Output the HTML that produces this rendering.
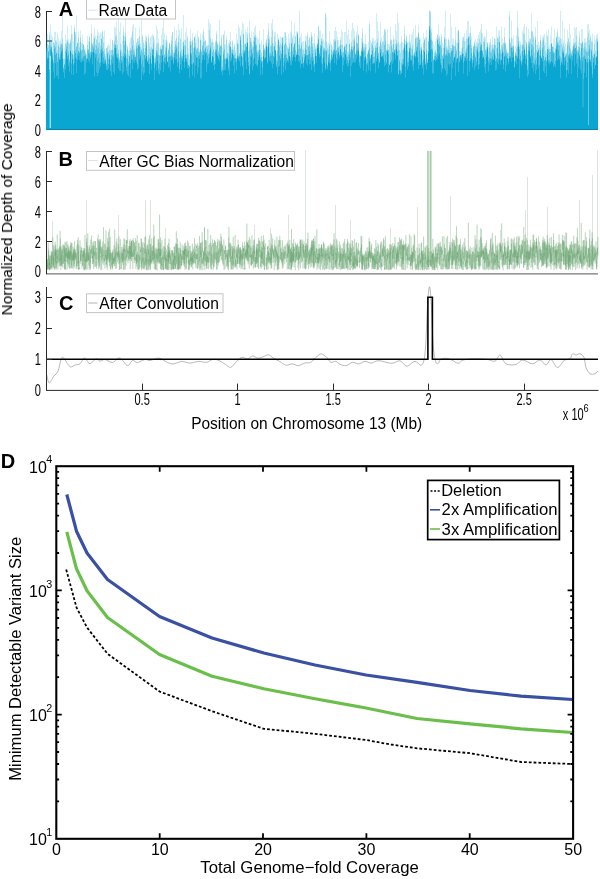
<!DOCTYPE html><html><head><meta charset="utf-8"><style>html,body{margin:0;padding:0;background:#fff}svg{display:block}text{font-family:"Liberation Sans",sans-serif;fill:#000}</style></head><body>
<svg width="600" height="879" viewBox="0 0 600 879">
<rect width="600" height="879" fill="#fff"/>
<g style="opacity:0.999">
<line x1="46.5" x2="46.5" y1="11.0" y2="129.6" stroke="#2a2a2a" stroke-width="1"/>
<line x1="46.5" x2="52.0" y1="11.5" y2="11.5" stroke="#2a2a2a" stroke-width="1"/>
<text transform="translate(41.0 17.7) scale(0.71 1)" text-anchor="end" font-size="15.6">8</text>
<line x1="46.5" x2="52.0" y1="41.0" y2="41.0" stroke="#2a2a2a" stroke-width="1"/>
<text transform="translate(41.0 47.2) scale(0.71 1)" text-anchor="end" font-size="15.6">6</text>
<line x1="46.5" x2="52.0" y1="70.5" y2="70.5" stroke="#2a2a2a" stroke-width="1"/>
<text transform="translate(41.0 76.7) scale(0.71 1)" text-anchor="end" font-size="15.6">4</text>
<line x1="46.5" x2="52.0" y1="100.0" y2="100.0" stroke="#2a2a2a" stroke-width="1"/>
<text transform="translate(41.0 106.2) scale(0.71 1)" text-anchor="end" font-size="15.6">2</text>
<line x1="46.5" x2="52.0" y1="129.5" y2="129.5" stroke="#2a2a2a" stroke-width="1"/>
<text transform="translate(41.0 135.7) scale(0.71 1)" text-anchor="end" font-size="15.6">0</text>
<path d="M46.0 129.9V45.1H46.20V48.0H46.40V48.8H46.60V34.9H46.80V51.3H47.00V43.9H47.20V59.3H47.40V33.9H47.60V48.1H47.80V57.6H48.00V51.8H48.20V50.9H48.40V58.0H48.60V45.5H48.80V44.3H49.00V39.9H49.20V35.2H49.40V32.3H49.60V71.9H49.80V69.8H50.00V24.4H50.20V39.9H50.40V45.8H50.60V62.0H50.80V49.3H51.00V50.8H51.20V46.6H51.40V41.6H51.60V47.3H51.80V34.6H52.00V51.6H52.20V59.4H52.40V55.5H52.60V53.0H52.80V37.0H53.00V42.1H53.20V63.2H53.40V42.5H53.60V61.1H53.80V71.8H54.00V32.0H54.20V43.4H54.40V45.7H54.60V78.2H54.80V48.7H55.00V54.9H55.20V40.5H55.40V47.3H55.60V63.3H55.80V31.7H56.00V39.5H56.20V53.1H56.40V42.1H56.60V76.3H56.80V53.0H57.00V57.6H57.20V61.9H57.40V50.2H57.60V75.5H57.80V32.5H58.00V43.4H58.20V45.9H58.40V53.8H58.60V37.7H58.80V78.9H59.00V60.3H59.20V59.3H59.40V47.4H59.60V57.0H59.80V40.9H60.00V54.2H60.20V44.1H60.40V59.6H60.60V39.2H60.80V46.5H61.00V50.6H61.20V52.2H61.40V44.2H61.60V30.8H61.80V42.8H62.00V48.4H62.20V10.8H62.40V38.6H62.60V44.9H62.80V58.8H63.00V59.2H63.20V54.3H63.40V72.3H63.60V68.9H63.80V67.3H64.00V47.1H64.20V63.9H64.40V65.1H64.60V57.9H64.80V78.0H65.00V69.5H65.20V44.3H65.40V50.9H65.60V59.8H65.80V34.3H66.00V49.1H66.20V42.7H66.40V39.4H66.60V52.3H66.80V45.9H67.00V25.4H67.20V55.7H67.40V40.1H67.60V41.7H67.80V59.1H68.00V51.6H68.20V66.0H68.40V54.5H68.60V39.3H68.80V43.2H69.00V59.4H69.20V44.5H69.40V71.8H69.60V42.4H69.80V62.3H70.00V40.4H70.20V51.0H70.40V39.0H70.60V43.2H70.80V50.8H71.00V74.5H71.20V53.1H71.40V63.4H71.60V24.9H71.80V34.3H72.00V53.4H72.20V50.2H72.40V59.3H72.60V55.0H72.80V33.7H73.00V40.7H73.20V64.5H73.40V58.4H73.60V54.5H73.80V75.1H74.00V51.3H74.20V62.9H74.40V25.4H74.60V31.7H74.80V27.9H75.00V34.5H75.20V49.7H75.40V53.1H75.60V31.9H75.80V57.2H76.00V15.4H76.20V58.8H76.40V46.9H76.60V45.9H76.80V73.0H77.00V41.8H77.20V60.0H77.40V53.9H77.60V42.9H77.80V43.0H78.00V56.1H78.20V37.9H78.40V31.4H78.60V51.3H78.80V50.8H79.00V52.2H79.20V52.7H79.40V47.6H79.60V59.9H79.80V42.3H80.00V49.8H80.20V30.8H80.40V41.8H80.60V62.0H80.80V37.3H81.00V50.9H81.20V49.2H81.40V58.5H81.60V62.8H81.80V42.9H82.00V49.7H82.20V61.1H82.40V34.6H82.60V58.6H82.80V43.3H83.00V44.4H83.20V44.9H83.40V56.4H83.60V44.1H83.80V60.9H84.00V50.1H84.20V49.8H84.40V55.5H84.60V46.9H84.80V74.8H85.00V52.0H85.20V73.0H85.40V55.8H85.60V53.9H85.80V48.3H86.00V54.2H86.20V58.4H86.40V53.8H86.60V58.8H86.80V62.6H87.00V58.2H87.20V58.7H87.40V45.1H87.60V49.6H87.80V35.7H88.00V50.0H88.20V41.3H88.40V48.9H88.60V60.7H88.80V52.7H89.00V37.2H89.20V35.3H89.40V41.4H89.60V54.3H89.80V62.9H90.00V47.5H90.20V59.0H90.40V51.8H90.60V51.9H90.80V56.6H91.00V25.1H91.20V51.6H91.40V43.3H91.60V53.8H91.80V33.6H92.00V45.1H92.20V43.3H92.40V52.2H92.60V44.6H92.80V64.6H93.00V46.4H93.20V48.6H93.40V42.5H93.60V52.1H93.80V35.7H94.00V38.5H94.20V76.8H94.40V37.7H94.60V53.1H94.80V27.8H95.00V57.7H95.20V35.4H95.40V50.0H95.60V54.3H95.80V44.7H96.00V39.7H96.20V45.5H96.40V72.5H96.60V39.0H96.80V53.8H97.00V29.5H97.20V35.8H97.40V48.5H97.60V60.7H97.80V76.3H98.00V47.4H98.20V72.9H98.40V32.6H98.60V58.0H98.80V42.7H99.00V63.0H99.20V53.7H99.40V42.5H99.60V68.4H99.80V34.6H100.00V49.9H100.20V45.6H100.40V32.6H100.60V62.1H100.80V66.2H101.00V53.1H101.20V49.1H101.40V33.6H101.60V38.7H101.80V39.0H102.00V31.8H102.20V62.6H102.40V51.1H102.60V47.3H102.80V30.3H103.00V63.7H103.20V57.5H103.40V42.6H103.60V36.3H103.80V51.4H104.00V48.9H104.20V30.7H104.40V63.7H104.60V53.7H104.80V60.2H105.00V56.3H105.20V60.6H105.40V53.6H105.60V63.0H105.80V58.8H106.00V48.2H106.20V69.8H106.40V65.7H106.60V63.9H106.80V47.6H107.00V70.0H107.20V47.2H107.40V45.6H107.60V53.7H107.80V52.4H108.00V44.3H108.20V51.7H108.40V59.1H108.60V68.7H108.80V64.1H109.00V54.5H109.20V45.6H109.40V50.2H109.60V56.4H109.80V59.6H110.00V65.3H110.20V71.6H110.40V64.4H110.60V38.8H110.80V50.4H111.00V59.6H111.20V55.0H111.40V50.3H111.60V76.3H111.80V49.3H112.00V49.9H112.20V63.4H112.40V55.7H112.60V40.6H112.80V39.9H113.00V57.3H113.20V50.3H113.40V54.6H113.60V72.0H113.80V43.5H114.00V44.3H114.20V48.1H114.40V74.2H114.60V26.2H114.80V40.7H115.00V45.0H115.20V48.5H115.40V36.2H115.60V44.9H115.80V27.7H116.00V54.0H116.20V21.1H116.40V47.5H116.60V34.9H116.80V56.9H117.00V59.1H117.20V53.5H117.40V57.3H117.60V39.9H117.80V44.7H118.00V10.8H118.20V49.7H118.40V54.1H118.60V67.9H118.80V58.8H119.00V70.8H119.20V62.3H119.40V31.9H119.60V57.6H119.80V60.1H120.00V49.8H120.20V71.0H120.40V22.6H120.60V52.3H120.80V43.9H121.00V50.0H121.20V60.1H121.40V63.3H121.60V45.1H121.80V55.8H122.00V74.6H122.20V52.7H122.40V40.4H122.60V61.4H122.80V56.8H123.00V35.3H123.20V26.3H123.40V71.8H123.60V32.5H123.80V56.1H124.00V40.6H124.20V53.7H124.40V45.2H124.60V35.9H124.80V57.6H125.00V55.7H125.20V37.3H125.40V32.9H125.60V18.1H125.80V41.3H126.00V44.3H126.20V57.9H126.40V66.6H126.60V71.0H126.80V54.4H127.00V58.5H127.20V74.3H127.40V47.0H127.60V45.2H127.80V49.5H128.00V54.4H128.20V76.2H128.40V51.1H128.60V65.4H128.80V61.8H129.00V56.4H129.20V42.6H129.40V50.4H129.60V55.9H129.80V63.9H130.00V77.7H130.20V37.9H130.40V62.9H130.60V48.0H130.80V50.6H131.00V38.0H131.20V59.5H131.40V35.2H131.60V54.9H131.80V49.7H132.00V25.9H132.20V31.5H132.40V45.8H132.60V59.4H132.80V69.5H133.00V40.6H133.20V50.6H133.40V23.9H133.60V54.7H133.80V61.6H134.00V48.9H134.20V56.7H134.40V44.7H134.60V63.2H134.80V52.5H135.00V27.6H135.20V57.2H135.40V54.7H135.60V56.5H135.80V60.2H136.00V41.8H136.20V46.1H136.40V62.3H136.60V48.7H136.80V42.9H137.00V38.9H137.20V69.6H137.40V38.5H137.60V64.2H137.80V48.1H138.00V44.9H138.20V37.5H138.40V41.1H138.60V45.4H138.80V68.1H139.00V44.2H139.20V26.9H139.40V59.4H139.60V46.5H139.80V36.6H140.00V51.8H140.20V54.7H140.40V56.8H140.60V46.8H140.80V43.1H141.00V49.8H141.20V11.9H141.40V80.0H141.60V48.7H141.80V64.6H142.00V34.5H142.20V36.4H142.40V72.5H142.60V60.2H142.80V52.3H143.00V75.2H143.20V42.9H143.40V40.2H143.60V48.3H143.80V66.7H144.00V52.1H144.20V72.8H144.40V55.1H144.60V44.2H144.80V55.1H145.00V57.5H145.20V59.3H145.40V35.2H145.60V40.6H145.80V48.1H146.00V36.2H146.20V37.7H146.40V41.7H146.60V45.0H146.80V56.2H147.00V60.5H147.20V56.6H147.40V49.1H147.60V62.3H147.80V61.2H148.00V35.1H148.20V38.3H148.40V55.0H148.60V59.1H148.80V64.0H149.00V58.0H149.20V46.7H149.40V73.9H149.60V63.7H149.80V42.6H150.00V58.9H150.20V52.4H150.40V56.2H150.60V48.9H150.80V37.0H151.00V35.8H151.20V47.2H151.40V62.8H151.60V69.7H151.80V64.0H152.00V48.2H152.20V49.5H152.40V49.7H152.60V55.1H152.80V33.9H153.00V56.6H153.20V35.6H153.40V49.3H153.60V43.7H153.80V36.4H154.00V80.2H154.20V58.5H154.40V62.4H154.60V67.5H154.80V39.1H155.00V55.9H155.20V57.9H155.40V47.6H155.60V62.3H155.80V64.4H156.00V70.4H156.20V52.9H156.40V49.9H156.60V25.2H156.80V45.1H157.00V55.1H157.20V43.0H157.40V51.2H157.60V29.3H157.80V60.9H158.00V38.3H158.20V43.0H158.40V68.4H158.60V54.8H158.80V73.2H159.00V55.9H159.20V63.4H159.40V74.4H159.60V49.3H159.80V55.0H160.00V56.1H160.20V70.6H160.40V47.3H160.60V45.3H160.80V49.4H161.00V34.6H161.20V49.9H161.40V62.7H161.60V48.7H161.80V49.0H162.00V56.1H162.20V45.0H162.40V28.0H162.60V54.9H162.80V45.5H163.00V45.1H163.20V12.6H163.40V72.1H163.60V39.4H163.80V61.0H164.00V57.9H164.20V54.0H164.40V54.9H164.60V33.1H164.80V62.2H165.00V46.6H165.20V64.3H165.40V51.0H165.60V57.2H165.80V39.6H166.00V34.9H166.20V43.0H166.40V56.6H166.60V48.2H166.80V39.5H167.00V41.1H167.20V61.9H167.40V62.3H167.60V53.7H167.80V61.0H168.00V50.5H168.20V49.4H168.40V56.9H168.60V48.1H168.80V67.7H169.00V44.0H169.20V43.1H169.40V42.5H169.60V56.3H169.80V66.6H170.00V46.2H170.20V56.6H170.40V52.4H170.60V55.4H170.80V71.5H171.00V39.7H171.20V55.1H171.40V59.9H171.60V44.5H171.80V35.5H172.00V59.4H172.20V31.9H172.40V56.6H172.60V32.1H172.80V49.9H173.00V53.2H173.20V56.9H173.40V51.6H173.60V64.4H173.80V62.4H174.00V26.7H174.20V47.3H174.40V53.6H174.60V57.8H174.80V52.6H175.00V50.1H175.20V39.4H175.40V44.5H175.60V59.7H175.80V41.1H176.00V37.8H176.20V45.8H176.40V30.0H176.60V58.9H176.80V48.4H177.00V54.2H177.20V66.7H177.40V46.5H177.60V62.4H177.80V42.6H178.00V42.1H178.20V23.6H178.40V51.2H178.60V36.1H178.80V61.8H179.00V57.5H179.20V73.0H179.40V69.0H179.60V57.2H179.80V29.7H180.00V38.2H180.20V39.2H180.40V54.3H180.60V64.3H180.80V51.2H181.00V49.2H181.20V56.2H181.40V69.9H181.60V58.5H181.80V27.9H182.00V52.4H182.20V58.2H182.40V56.0H182.60V42.7H182.80V61.3H183.00V41.5H183.20V41.8H183.40V15.1H183.60V46.3H183.80V49.8H184.00V39.6H184.20V68.1H184.40V55.1H184.60V61.9H184.80V45.1H185.00V46.6H185.20V58.7H185.40V32.1H185.60V54.5H185.80V40.3H186.00V27.4H186.20V61.3H186.40V58.0H186.60V58.4H186.80V54.6H187.00V54.4H187.20V68.3H187.40V35.7H187.60V62.5H187.80V38.5H188.00V54.5H188.20V48.1H188.40V65.0H188.60V68.2H188.80V64.9H189.00V66.2H189.20V66.4H189.40V59.3H189.60V78.2H189.80V41.3H190.00V39.3H190.20V44.9H190.40V41.7H190.60V29.0H190.80V53.1H191.00V64.2H191.20V55.3H191.40V53.1H191.60V41.0H191.80V44.4H192.00V64.5H192.20V42.1H192.40V75.5H192.60V32.8H192.80V39.8H193.00V47.4H193.20V62.5H193.40V63.3H193.60V47.9H193.80V51.7H194.00V77.6H194.20V37.8H194.40V36.7H194.60V47.7H194.80V37.1H195.00V43.2H195.20V54.8H195.40V65.4H195.60V47.1H195.80V34.7H196.00V57.3H196.20V38.6H196.40V49.9H196.60V48.3H196.80V57.5H197.00V47.9H197.20V30.7H197.40V73.4H197.60V57.8H197.80V49.1H198.00V36.1H198.20V38.3H198.40V51.7H198.60V67.5H198.80V56.0H199.00V49.3H199.20V51.6H199.40V59.0H199.60V52.6H199.80V54.8H200.00V40.2H200.20V39.4H200.40V78.8H200.60V49.2H200.80V33.3H201.00V51.9H201.20V40.5H201.40V62.9H201.60V77.7H201.80V50.5H202.00V45.0H202.20V34.0H202.40V54.7H202.60V59.8H202.80V46.6H203.00V31.6H203.20V41.9H203.40V55.5H203.60V28.7H203.80V50.4H204.00V60.0H204.20V52.1H204.40V50.0H204.60V37.2H204.80V40.9H205.00V40.4H205.20V40.2H205.40V53.9H205.60V48.6H205.80V47.5H206.00V45.4H206.20V52.5H206.40V71.9H206.60V52.0H206.80V46.0H207.00V44.6H207.20V46.0H207.40V48.9H207.60V64.4H207.80V55.6H208.00V58.8H208.20V63.3H208.40V44.9H208.60V19.2H208.80V53.8H209.00V30.2H209.20V22.4H209.40V53.5H209.60V50.9H209.80V57.0H210.00V45.8H210.20V47.7H210.40V38.1H210.60V24.0H210.80V49.8H211.00V59.7H211.20V62.5H211.40V62.2H211.60V39.6H211.80V42.5H212.00V42.1H212.20V52.0H212.40V56.5H212.60V39.1H212.80V56.1H213.00V57.1H213.20V49.5H213.40V65.1H213.60V48.9H213.80V42.0H214.00V64.3H214.20V61.2H214.40V70.1H214.60V45.9H214.80V52.4H215.00V51.5H215.20V42.8H215.40V49.5H215.60V64.1H215.80V40.5H216.00V49.4H216.20V31.0H216.40V34.3H216.60V41.4H216.80V53.6H217.00V44.7H217.20V41.8H217.40V55.5H217.60V43.9H217.80V55.6H218.00V44.2H218.20V59.4H218.40V50.6H218.60V51.9H218.80V57.4H219.00V61.3H219.20V54.1H219.40V42.1H219.60V46.4H219.80V19.5H220.00V56.1H220.20V54.9H220.40V46.1H220.60V44.7H220.80V46.5H221.00V69.8H221.20V37.9H221.40V45.1H221.60V34.7H221.80V71.9H222.00V67.0H222.20V59.7H222.40V47.7H222.60V70.0H222.80V75.3H223.00V34.6H223.20V54.2H223.40V70.5H223.60V51.3H223.80V34.6H224.00V44.3H224.20V58.9H224.40V49.0H224.60V70.1H224.80V30.5H225.00V64.1H225.20V58.7H225.40V57.4H225.60V44.6H225.80V70.1H226.00V59.3H226.20V39.6H226.40V35.6H226.60V57.6H226.80V58.9H227.00V59.6H227.20V52.5H227.40V57.7H227.60V44.7H227.80V53.2H228.00V60.5H228.20V67.4H228.40V70.4H228.60V53.8H228.80V42.8H229.00V75.2H229.20V45.4H229.40V43.2H229.60V39.4H229.80V55.5H230.00V47.1H230.20V41.6H230.40V32.0H230.60V61.5H230.80V47.1H231.00V52.9H231.20V60.6H231.40V47.2H231.60V49.4H231.80V57.4H232.00V49.6H232.20V40.1H232.40V53.6H232.60V53.5H232.80V42.3H233.00V65.4H233.20V55.8H233.40V47.1H233.60V49.9H233.80V54.6H234.00V73.6H234.20V45.5H234.40V58.0H234.60V55.1H234.80V44.0H235.00V57.9H235.20V58.8H235.40V52.3H235.60V50.0H235.80V62.5H236.00V57.6H236.20V70.4H236.40V33.4H236.60V61.2H236.80V58.6H237.00V58.5H237.20V55.4H237.40V44.0H237.60V42.7H237.80V39.6H238.00V44.2H238.20V59.5H238.40V57.1H238.60V56.0H238.80V25.2H239.00V53.0H239.20V61.5H239.40V56.4H239.60V27.9H239.80V54.7H240.00V66.6H240.20V35.2H240.40V37.3H240.60V35.1H240.80V39.9H241.00V56.8H241.20V29.4H241.40V53.0H241.60V44.9H241.80V55.8H242.00V57.0H242.20V22.2H242.40V49.8H242.60V65.1H242.80V66.7H243.00V33.2H243.20V52.5H243.40V34.4H243.60V23.9H243.80V75.3H244.00V41.4H244.20V50.5H244.40V53.7H244.60V44.7H244.80V50.9H245.00V50.2H245.20V29.2H245.40V44.1H245.60V61.5H245.80V43.7H246.00V46.3H246.20V42.6H246.40V47.0H246.60V32.1H246.80V69.0H247.00V27.1H247.20V38.1H247.40V34.2H247.60V42.8H247.80V43.1H248.00V51.0H248.20V50.6H248.40V66.0H248.60V56.9H248.80V62.1H249.00V20.3H249.20V74.4H249.40V49.2H249.60V33.2H249.80V73.7H250.00V56.0H250.20V41.8H250.40V37.9H250.60V38.1H250.80V64.7H251.00V44.5H251.20V49.6H251.40V41.5H251.60V31.5H251.80V56.9H252.00V54.6H252.20V47.2H252.40V45.3H252.60V70.3H252.80V52.4H253.00V59.3H253.20V32.3H253.40V46.8H253.60V40.7H253.80V66.0H254.00V57.8H254.20V36.3H254.40V36.9H254.60V41.8H254.80V28.3H255.00V45.1H255.20V63.9H255.40V34.9H255.60V37.9H255.80V25.7H256.00V45.8H256.20V65.0H256.40V51.5H256.60V43.9H256.80V36.8H257.00V53.5H257.20V37.8H257.40V66.7H257.60V64.3H257.80V50.2H258.00V51.7H258.20V60.2H258.40V39.5H258.60V50.3H258.80V56.8H259.00V45.0H259.20V43.5H259.40V55.0H259.60V30.8H259.80V49.7H260.00V57.2H260.20V49.8H260.40V43.8H260.60V75.0H260.80V60.0H261.00V56.9H261.20V62.7H261.40V52.8H261.60V61.3H261.80V40.6H262.00V74.3H262.20V67.6H262.40V56.9H262.60V61.2H262.80V60.8H263.00V50.6H263.20V56.3H263.40V29.2H263.60V45.1H263.80V44.7H264.00V47.7H264.20V50.0H264.40V48.6H264.60V57.8H264.80V59.8H265.00V51.1H265.20V57.9H265.40V46.9H265.60V41.9H265.80V57.2H266.00V40.0H266.20V46.2H266.40V46.6H266.60V43.6H266.80V38.2H267.00V48.4H267.20V46.3H267.40V63.5H267.60V34.6H267.80V61.8H268.00V46.8H268.20V38.4H268.40V30.6H268.60V43.2H268.80V23.1H269.00V53.3H269.20V60.6H269.40V56.6H269.60V39.5H269.80V36.1H270.00V55.6H270.20V53.1H270.40V46.5H270.60V44.4H270.80V61.3H271.00V23.3H271.20V45.4H271.40V37.0H271.60V55.5H271.80V63.2H272.00V51.4H272.20V19.0H272.40V30.0H272.60V68.2H272.80V43.3H273.00V56.3H273.20V64.1H273.40V46.6H273.60V43.3H273.80V55.7H274.00V32.3H274.20V57.3H274.40V36.2H274.60V45.4H274.80V47.1H275.00V31.7H275.20V50.0H275.40V50.7H275.60V50.0H275.80V41.4H276.00V54.6H276.20V67.1H276.40V53.1H276.60V60.2H276.80V64.8H277.00V44.7H277.20V74.3H277.40V61.2H277.60V33.7H277.80V50.9H278.00V66.9H278.20V40.3H278.40V39.8H278.60V38.9H278.80V37.5H279.00V46.9H279.20V55.4H279.40V45.0H279.60V41.8H279.80V65.8H280.00V36.6H280.20V60.4H280.40V43.7H280.60V58.1H280.80V51.1H281.00V53.7H281.20V74.4H281.40V53.6H281.60V45.3H281.80V37.5H282.00V37.2H282.20V37.8H282.40V37.6H282.60V42.5H282.80V46.0H283.00V36.4H283.20V57.9H283.40V49.9H283.60V66.2H283.80V72.2H284.00V61.8H284.20V32.3H284.40V54.9H284.60V44.2H284.80V45.0H285.00V32.6H285.20V69.8H285.40V42.8H285.60V54.1H285.80V32.2H286.00V62.8H286.20V54.8H286.40V44.9H286.60V36.7H286.80V57.9H287.00V58.3H287.20V46.5H287.40V47.5H287.60V59.9H287.80V61.3H288.00V49.1H288.20V33.8H288.40V62.4H288.60V48.4H288.80V52.1H289.00V56.2H289.20V38.3H289.40V46.9H289.60V55.9H289.80V43.2H290.00V60.5H290.20V52.2H290.40V57.2H290.60V31.2H290.80V64.8H291.00V21.1H291.20V43.8H291.40V42.7H291.60V32.7H291.80V65.5H292.00V50.7H292.20V38.2H292.40V57.4H292.60V36.4H292.80V60.9H293.00V55.2H293.20V47.5H293.40V35.0H293.60V46.2H293.80V54.5H294.00V22.9H294.20V44.2H294.40V42.4H294.60V43.3H294.80V56.9H295.00V61.4H295.20V49.7H295.40V35.5H295.60V36.5H295.80V57.3H296.00V31.5H296.20V52.1H296.40V55.3H296.60V54.8H296.80V55.0H297.00V34.6H297.20V32.1H297.40V33.6H297.60V54.0H297.80V31.0H298.00V60.8H298.20V40.7H298.40V55.1H298.60V44.2H298.80V49.3H299.00V62.2H299.20V10.8H299.40V55.8H299.60V38.0H299.80V44.9H300.00V60.3H300.20V48.0H300.40V48.7H300.60V68.0H300.80V36.3H301.00V32.9H301.20V45.4H301.40V64.3H301.60V63.6H301.80V41.9H302.00V42.1H302.20V49.7H302.40V57.1H302.60V54.4H302.80V64.1H303.00V62.8H303.20V67.2H303.40V62.6H303.60V41.0H303.80V49.5H304.00V57.3H304.20V54.1H304.40V59.9H304.60V53.5H304.80V47.6H305.00V35.4H305.20V55.4H305.40V41.8H305.60V41.1H305.80V49.6H306.00V55.3H306.20V45.1H306.40V63.5H306.60V36.6H306.80V49.8H307.00V54.9H307.20V35.2H307.40V55.3H307.60V65.4H307.80V32.5H308.00V39.9H308.20V46.5H308.40V59.6H308.60V46.4H308.80V54.2H309.00V51.2H309.20V36.9H309.40V45.4H309.60V38.0H309.80V64.2H310.00V46.7H310.20V40.2H310.40V54.3H310.60V59.4H310.80V64.6H311.00V57.1H311.20V69.9H311.40V34.5H311.60V31.9H311.80V37.5H312.00V61.1H312.20V43.4H312.40V46.4H312.60V53.4H312.80V36.3H313.00V66.7H313.20V49.8H313.40V57.1H313.60V42.9H313.80V59.7H314.00V33.3H314.20V64.4H314.40V64.2H314.60V72.1H314.80V43.2H315.00V49.7H315.20V48.0H315.40V55.9H315.60V46.0H315.80V52.8H316.00V45.5H316.20V56.2H316.40V48.7H316.60V56.1H316.80V63.2H317.00V48.2H317.20V36.0H317.40V43.8H317.60V44.7H317.80V43.3H318.00V47.5H318.20V38.9H318.40V25.2H318.60V39.6H318.80V26.9H319.00V30.5H319.20V53.9H319.40V50.8H319.60V57.5H319.80V53.4H320.00V30.4H320.20V56.0H320.40V44.5H320.60V48.3H320.80V45.4H321.00V38.2H321.20V40.7H321.40V45.7H321.60V38.5H321.80V63.2H322.00V58.6H322.20V72.8H322.40V64.3H322.60V34.0H322.80V40.9H323.00V48.7H323.20V47.1H323.40V57.1H323.60V39.1H323.80V51.1H324.00V48.8H324.20V62.2H324.40V51.8H324.60V47.9H324.80V42.1H325.00V13.5H325.20V50.0H325.40V70.0H325.60V68.1H325.80V12.9H326.00V64.3H326.20V51.0H326.40V17.4H326.60V50.5H326.80V41.5H327.00V66.4H327.20V48.5H327.40V69.3H327.60V65.0H327.80V44.4H328.00V42.8H328.20V54.4H328.40V61.8H328.60V57.2H328.80V49.6H329.00V43.9H329.20V46.0H329.40V63.0H329.60V30.9H329.80V53.6H330.00V63.2H330.20V70.9H330.40V41.7H330.60V60.7H330.80V58.5H331.00V45.3H331.20V55.0H331.40V43.9H331.60V60.2H331.80V50.0H332.00V59.3H332.20V54.4H332.40V51.6H332.60V57.1H332.80V46.6H333.00V49.3H333.20V49.8H333.40V54.1H333.60V51.9H333.80V38.9H334.00V40.1H334.20V42.2H334.40V50.0H334.60V31.1H334.80V63.1H335.00V54.5H335.20V39.3H335.40V27.1H335.60V51.6H335.80V41.1H336.00V58.0H336.20V50.1H336.40V30.9H336.60V49.7H336.80V64.8H337.00V53.4H337.20V40.6H337.40V36.6H337.60V59.9H337.80V47.7H338.00V52.4H338.20V47.8H338.40V51.6H338.60V39.9H338.80V46.7H339.00V54.7H339.20V57.9H339.40V45.7H339.60V55.5H339.80V45.5H340.00V40.1H340.20V48.8H340.40V37.2H340.60V49.4H340.80V44.6H341.00V29.5H341.20V54.4H341.40V44.7H341.60V55.9H341.80V51.7H342.00V58.3H342.20V31.9H342.40V72.0H342.60V52.8H342.80V45.0H343.00V65.3H343.20V47.7H343.40V57.0H343.60V52.3H343.80V51.5H344.00V46.9H344.20V47.2H344.40V32.1H344.60V59.8H344.80V45.2H345.00V45.4H345.20V53.9H345.40V31.7H345.60V54.6H345.80V50.0H346.00V57.0H346.20V63.4H346.40V44.3H346.60V20.6H346.80V43.9H347.00V66.2H347.20V34.5H347.40V56.8H347.60V51.9H347.80V59.9H348.00V66.3H348.20V62.8H348.40V29.5H348.60V54.7H348.80V51.3H349.00V60.3H349.20V38.9H349.40V43.8H349.60V54.2H349.80V44.0H350.00V49.8H350.20V48.9H350.40V52.0H350.60V57.5H350.80V76.8H351.00V65.7H351.20V30.6H351.40V49.2H351.60V42.1H351.80V46.5H352.00V50.5H352.20V49.7H352.40V46.3H352.60V63.2H352.80V23.1H353.00V28.2H353.20V39.7H353.40V61.8H353.60V58.3H353.80V47.4H354.00V30.8H354.20V37.8H354.40V62.5H354.60V45.3H354.80V40.4H355.00V51.8H355.20V53.5H355.40V53.8H355.60V62.5H355.80V54.7H356.00V58.5H356.20V35.5H356.40V50.6H356.60V32.4H356.80V42.5H357.00V55.3H357.20V44.1H357.40V25.5H357.60V43.2H357.80V50.2H358.00V51.0H358.20V35.9H358.40V48.3H358.60V35.0H358.80V34.1H359.00V66.3H359.20V53.8H359.40V62.5H359.60V56.7H359.80V55.1H360.00V68.3H360.20V55.0H360.40V55.9H360.60V53.1H360.80V56.3H361.00V56.5H361.20V47.9H361.40V37.9H361.60V50.9H361.80V51.1H362.00V51.2H362.20V27.7H362.40V41.7H362.60V33.3H362.80V44.2H363.00V46.4H363.20V70.7H363.40V49.2H363.60V42.8H363.80V52.1H364.00V57.9H364.20V47.4H364.40V50.6H364.60V60.6H364.80V43.9H365.00V47.5H365.20V34.0H365.40V44.0H365.60V57.0H365.80V56.2H366.00V43.9H366.20V64.1H366.40V57.5H366.60V59.3H366.80V72.4H367.00V53.6H367.20V62.7H367.40V54.3H367.60V50.7H367.80V65.2H368.00V51.8H368.20V49.8H368.40V70.2H368.60V41.8H368.80V50.1H369.00V21.9H369.20V25.0H369.40V60.8H369.60V53.6H369.80V47.4H370.00V71.3H370.20V58.7H370.40V40.0H370.60V58.0H370.80V55.5H371.00V54.8H371.20V43.7H371.40V42.3H371.60V54.1H371.80V55.1H372.00V50.4H372.20V45.5H372.40V37.5H372.60V63.7H372.80V41.0H373.00V47.8H373.20V56.9H373.40V62.9H373.60V63.6H373.80V37.9H374.00V63.4H374.20V56.5H374.40V53.0H374.60V41.2H374.80V62.1H375.00V72.7H375.20V45.8H375.40V47.8H375.60V40.2H375.80V50.9H376.00V47.8H376.20V43.1H376.40V61.4H376.60V13.2H376.80V58.7H377.00V47.6H377.20V21.6H377.40V56.2H377.60V38.9H377.80V42.4H378.00V31.0H378.20V68.1H378.40V52.5H378.60V53.4H378.80V58.7H379.00V46.4H379.20V45.9H379.40V62.9H379.60V60.5H379.80V62.2H380.00V22.0H380.20V40.6H380.40V49.3H380.60V52.7H380.80V42.9H381.00V56.7H381.20V44.9H381.40V56.4H381.60V49.4H381.80V37.2H382.00V56.5H382.20V42.5H382.40V41.1H382.60V56.0H382.80V52.7H383.00V52.0H383.20V58.7H383.40V41.5H383.60V35.1H383.80V54.8H384.00V66.6H384.20V61.8H384.40V29.7H384.60V44.9H384.80V29.0H385.00V65.1H385.20V54.6H385.40V40.7H385.60V28.7H385.80V31.9H386.00V63.8H386.20V48.4H386.40V49.7H386.60V62.3H386.80V50.8H387.00V51.7H387.20V50.9H387.40V50.1H387.60V43.9H387.80V29.0H388.00V44.0H388.20V49.7H388.40V72.3H388.60V50.3H388.80V54.1H389.00V64.3H389.20V43.7H389.40V65.1H389.60V46.7H389.80V65.1H390.00V53.4H390.20V39.4H390.40V61.9H390.60V62.7H390.80V26.8H391.00V45.7H391.20V40.4H391.40V60.6H391.60V72.6H391.80V39.5H392.00V44.2H392.20V51.9H392.40V51.7H392.60V47.7H392.80V63.7H393.00V35.2H393.20V53.2H393.40V43.9H393.60V61.2H393.80V39.7H394.00V38.9H394.20V51.0H394.40V53.0H394.60V49.0H394.80V50.0H395.00V59.0H395.20V54.7H395.40V49.3H395.60V44.3H395.80V24.0H396.00V31.0H396.20V39.9H396.40V49.6H396.60V46.5H396.80V43.5H397.00V55.4H397.20V55.5H397.40V51.1H397.60V43.6H397.80V13.0H398.00V74.5H398.20V41.8H398.40V74.0H398.60V50.2H398.80V22.8H399.00V49.9H399.20V59.6H399.40V70.3H399.60V61.6H399.80V44.5H400.00V43.4H400.20V70.4H400.40V70.4H400.60V53.0H400.80V75.0H401.00V42.0H401.20V62.5H401.40V35.7H401.60V72.9H401.80V73.2H402.00V41.9H402.20V65.8H402.40V59.3H402.60V64.2H402.80V50.5H403.00V42.9H403.20V48.4H403.40V64.3H403.60V59.1H403.80V49.8H404.00V34.0H404.20V44.6H404.40V39.6H404.60V47.6H404.80V25.8H405.00V44.9H405.20V66.6H405.40V50.4H405.60V77.6H405.80V40.5H406.00V36.2H406.20V35.5H406.40V41.2H406.60V43.3H406.80V44.6H407.00V50.7H407.20V69.7H407.40V42.1H407.60V43.3H407.80V62.2H408.00V57.4H408.20V66.4H408.40V42.3H408.60V61.9H408.80V52.3H409.00V47.6H409.20V41.6H409.40V48.3H409.60V34.3H409.80V51.3H410.00V54.3H410.20V60.1H410.40V47.3H410.60V40.4H410.80V43.4H411.00V34.6H411.20V55.6H411.40V60.9H411.60V59.1H411.80V48.5H412.00V32.6H412.20V45.1H412.40V49.0H412.60V66.2H412.80V55.7H413.00V54.6H413.20V28.3H413.40V63.6H413.60V55.6H413.80V70.5H414.00V52.4H414.20V48.3H414.40V56.5H414.60V52.0H414.80V54.4H415.00V38.8H415.20V57.8H415.40V56.1H415.60V38.1H415.80V25.2H416.00V50.3H416.20V36.4H416.40V46.4H416.60V52.0H416.80V38.0H417.00V37.0H417.20V42.8H417.40V56.9H417.60V37.4H417.80V47.4H418.00V33.3H418.20V68.7H418.40V33.3H418.60V24.7H418.80V61.9H419.00V39.3H419.20V36.8H419.40V65.1H419.60V50.2H419.80V39.4H420.00V53.5H420.20V38.8H420.40V64.9H420.60V63.5H420.80V47.4H421.00V48.8H421.20V49.7H421.40V43.9H421.60V51.1H421.80V47.0H422.00V55.0H422.20V53.7H422.40V68.2H422.60V61.7H422.80V64.9H423.00V74.7H423.20V59.3H423.40V33.1H423.60V42.5H423.80V50.0H424.00V52.0H424.20V51.5H424.40V39.6H424.60V38.3H424.80V40.3H425.00V58.6H425.20V63.9H425.40V62.0H425.60V65.1H425.80V37.0H426.00V29.7H426.20V49.4H426.40V37.4H426.60V53.9H426.80V69.5H427.00V63.2H427.20V50.4H427.40V63.0H427.60V58.5H427.80V60.4H428.00V41.3H428.20V52.4H428.40V40.9H428.60V38.6H428.80V51.0H429.00V26.6H429.20V10.8H429.40V30.6H429.60V26.2H429.80V10.8H430.00V10.8H430.20V12.4H430.40V29.4H430.60V38.5H430.80V49.9H431.00V48.9H431.20V40.0H431.40V28.3H431.60V32.6H431.80V62.1H432.00V40.2H432.20V40.9H432.40V72.9H432.60V48.6H432.80V50.8H433.00V58.7H433.20V74.1H433.40V44.3H433.60V59.4H433.80V61.3H434.00V55.7H434.20V45.4H434.40V52.4H434.60V60.1H434.80V59.6H435.00V49.9H435.20V55.7H435.40V61.4H435.60V41.2H435.80V52.0H436.00V57.0H436.20V53.2H436.40V59.9H436.60V54.1H436.80V37.6H437.00V35.0H437.20V40.1H437.40V34.3H437.60V58.9H437.80V39.0H438.00V56.0H438.20V44.5H438.40V25.1H438.60V37.6H438.80V43.7H439.00V41.5H439.20V53.8H439.40V37.6H439.60V35.3H439.80V46.0H440.00V40.4H440.20V63.3H440.40V44.4H440.60V58.8H440.80V45.5H441.00V72.6H441.20V36.7H441.40V34.1H441.60V47.7H441.80V65.0H442.00V55.8H442.20V55.5H442.40V42.5H442.60V68.0H442.80V69.5H443.00V48.0H443.20V59.1H443.40V44.4H443.60V58.3H443.80V54.0H444.00V38.7H444.20V47.7H444.40V37.0H444.60V26.8H444.80V68.5H445.00V39.4H445.20V70.6H445.40V10.8H445.60V54.3H445.80V56.1H446.00V38.8H446.20V49.2H446.40V54.6H446.60V76.2H446.80V46.8H447.00V45.6H447.20V55.4H447.40V51.0H447.60V48.6H447.80V74.0H448.00V40.0H448.20V38.1H448.40V50.1H448.60V63.7H448.80V53.0H449.00V66.3H449.20V45.5H449.40V40.2H449.60V54.6H449.80V52.2H450.00V48.1H450.20V63.9H450.40V56.6H450.60V13.9H450.80V52.8H451.00V80.2H451.20V50.5H451.40V26.9H451.60V47.9H451.80V51.4H452.00V68.0H452.20V44.8H452.40V50.2H452.60V39.1H452.80V44.9H453.00V38.5H453.20V59.0H453.40V62.3H453.60V46.7H453.80V45.1H454.00V46.3H454.20V56.5H454.40V45.7H454.60V57.0H454.80V57.4H455.00V46.3H455.20V39.8H455.40V54.0H455.60V75.9H455.80V27.0H456.00V49.3H456.20V59.4H456.40V42.9H456.60V62.7H456.80V51.3H457.00V57.9H457.20V58.5H457.40V58.0H457.60V31.4H457.80V42.5H458.00V72.0H458.20V43.1H458.40V31.1H458.60V29.2H458.80V30.8H459.00V51.1H459.20V40.0H459.40V62.5H459.60V56.2H459.80V61.6H460.00V55.1H460.20V54.8H460.40V51.3H460.60V55.8H460.80V58.0H461.00V57.3H461.20V60.1H461.40V51.4H461.60V47.9H461.80V55.1H462.00V37.1H462.20V47.2H462.40V54.1H462.60V40.8H462.80V52.9H463.00V53.9H463.20V36.5H463.40V62.5H463.60V73.8H463.80V37.4H464.00V56.1H464.20V57.6H464.40V61.0H464.60V32.9H464.80V41.0H465.00V40.8H465.20V58.1H465.40V52.7H465.60V56.5H465.80V50.5H466.00V48.6H466.20V30.6H466.40V53.3H466.60V60.7H466.80V38.7H467.00V46.3H467.20V58.5H467.40V21.3H467.60V38.7H467.80V75.7H468.00V36.8H468.20V36.4H468.40V38.1H468.60V20.9H468.80V45.1H469.00V71.5H469.20V33.4H469.40V44.6H469.60V60.9H469.80V36.3H470.00V26.0H470.20V58.0H470.40V39.4H470.60V61.3H470.80V32.9H471.00V58.9H471.20V36.5H471.40V47.9H471.60V45.3H471.80V53.3H472.00V56.1H472.20V52.2H472.40V63.0H472.60V67.3H472.80V59.8H473.00V51.5H473.20V47.5H473.40V45.8H473.60V45.8H473.80V60.2H474.00V40.4H474.20V44.2H474.40V54.6H474.60V42.6H474.80V69.7H475.00V57.9H475.20V38.7H475.40V46.3H475.60V66.9H475.80V56.5H476.00V65.3H476.20V41.4H476.40V45.7H476.60V61.5H476.80V50.1H477.00V38.6H477.20V43.1H477.40V46.8H477.60V48.8H477.80V51.5H478.00V64.2H478.20V68.9H478.40V43.2H478.60V52.5H478.80V34.8H479.00V64.5H479.20V51.4H479.40V32.1H479.60V39.0H479.80V57.9H480.00V44.5H480.20V42.1H480.40V50.8H480.60V47.2H480.80V29.3H481.00V32.7H481.20V44.8H481.40V50.1H481.60V44.5H481.80V24.1H482.00V58.6H482.20V50.8H482.40V33.5H482.60V50.2H482.80V52.7H483.00V37.3H483.20V42.1H483.40V57.1H483.60V54.9H483.80V57.3H484.00V39.3H484.20V67.2H484.40V41.9H484.60V58.9H484.80V36.1H485.00V37.0H485.20V49.3H485.40V64.1H485.60V73.2H485.80V50.2H486.00V56.9H486.20V29.8H486.40V50.4H486.60V54.5H486.80V46.9H487.00V48.4H487.20V42.0H487.40V43.0H487.60V44.4H487.80V47.3H488.00V57.1H488.20V61.6H488.40V51.4H488.60V71.5H488.80V47.0H489.00V42.1H489.20V44.9H489.40V59.1H489.60V47.7H489.80V64.7H490.00V58.5H490.20V52.3H490.40V42.6H490.60V38.8H490.80V62.4H491.00V65.1H491.20V53.0H491.40V58.6H491.60V44.5H491.80V50.0H492.00V48.5H492.20V45.0H492.40V36.7H492.60V56.4H492.80V60.0H493.00V49.7H493.20V47.4H493.40V59.0H493.60V60.2H493.80V44.3H494.00V50.7H494.20V53.7H494.40V38.5H494.60V38.5H494.80V44.7H495.00V39.3H495.20V44.9H495.40V55.5H495.60V70.5H495.80V60.9H496.00V58.6H496.20V26.6H496.40V48.1H496.60V58.5H496.80V69.6H497.00V41.9H497.20V48.4H497.40V37.1H497.60V37.8H497.80V62.2H498.00V53.8H498.20V64.3H498.40V30.5H498.60V39.0H498.80V59.4H499.00V30.3H499.20V41.9H499.40V42.1H499.60V58.4H499.80V36.0H500.00V60.3H500.20V52.5H500.40V49.5H500.60V64.8H500.80V48.8H501.00V59.4H501.20V45.0H501.40V26.3H501.60V54.1H501.80V60.3H502.00V47.6H502.20V52.7H502.40V37.4H502.60V44.4H502.80V50.6H503.00V42.4H503.20V43.5H503.40V52.6H503.60V64.4H503.80V68.9H504.00V37.1H504.20V43.6H504.40V57.2H504.60V27.5H504.80V56.1H505.00V42.3H505.20V45.1H505.40V71.5H505.60V43.1H505.80V54.3H506.00V65.3H506.20V52.5H506.40V50.3H506.60V47.2H506.80V55.7H507.00V51.2H507.20V58.5H507.40V53.0H507.60V57.9H507.80V53.2H508.00V52.5H508.20V61.5H508.40V52.4H508.60V58.6H508.80V64.4H509.00V57.7H509.20V16.4H509.40V38.6H509.60V10.9H509.80V56.0H510.00V47.4H510.20V56.5H510.40V43.1H510.60V58.5H510.80V42.2H511.00V48.0H511.20V37.5H511.40V20.4H511.60V46.2H511.80V62.1H512.00V52.2H512.20V45.8H512.40V38.4H512.60V47.7H512.80V58.1H513.00V46.3H513.20V35.7H513.40V50.3H513.60V57.0H513.80V45.9H514.00V57.5H514.20V67.6H514.40V60.9H514.60V67.3H514.80V59.7H515.00V51.9H515.20V55.4H515.40V45.5H515.60V61.9H515.80V53.3H516.00V56.3H516.20V48.6H516.40V64.3H516.60V54.8H516.80V35.1H517.00V56.5H517.20V10.8H517.40V46.9H517.60V26.9H517.80V59.0H518.00V41.3H518.20V46.4H518.40V44.0H518.60V28.7H518.80V37.1H519.00V78.2H519.20V58.7H519.40V46.5H519.60V49.1H519.80V40.8H520.00V53.8H520.20V56.1H520.40V60.9H520.60V41.2H520.80V44.7H521.00V45.3H521.20V63.5H521.40V50.9H521.60V65.8H521.80V60.3H522.00V44.7H522.20V51.0H522.40V44.7H522.60V30.4H522.80V61.7H523.00V55.2H523.20V33.5H523.40V44.7H523.60V27.1H523.80V59.1H524.00V47.0H524.20V23.8H524.40V49.5H524.60V34.1H524.80V49.7H525.00V56.3H525.20V54.6H525.40V64.1H525.60V53.6H525.80V39.6H526.00V42.5H526.20V26.5H526.40V59.0H526.60V43.6H526.80V47.1H527.00V76.8H527.20V50.4H527.40V69.7H527.60V65.6H527.80V54.6H528.00V29.1H528.20V50.4H528.40V74.8H528.60V44.5H528.80V41.6H529.00V38.1H529.20V43.1H529.40V50.9H529.60V46.4H529.80V41.3H530.00V58.3H530.20V38.4H530.40V56.5H530.60V38.9H530.80V55.4H531.00V44.1H531.20V13.5H531.40V49.6H531.60V63.1H531.80V31.2H532.00V45.1H532.20V30.6H532.40V31.9H532.60V55.7H532.80V67.9H533.00V71.5H533.20V37.7H533.40V34.5H533.60V62.8H533.80V47.3H534.00V58.0H534.20V63.7H534.40V42.1H534.60V65.2H534.80V52.6H535.00V74.1H535.20V39.4H535.40V27.2H535.60V60.2H535.80V36.7H536.00V50.0H536.20V64.5H536.40V44.4H536.60V69.8H536.80V57.2H537.00V45.1H537.20V20.9H537.40V52.2H537.60V52.8H537.80V51.4H538.00V50.1H538.20V41.9H538.40V47.8H538.60V67.4H538.80V50.3H539.00V47.6H539.20V55.5H539.40V44.9H539.60V80.0H539.80V65.1H540.00V55.7H540.20V41.4H540.40V50.0H540.60V40.1H540.80V34.7H541.00V43.6H541.20V58.2H541.40V58.0H541.60V58.0H541.80V56.0H542.00V41.3H542.20V47.5H542.40V61.2H542.60V49.5H542.80V36.5H543.00V40.2H543.20V38.1H543.40V71.5H543.60V35.1H543.80V55.9H544.00V59.6H544.20V45.3H544.40V72.9H544.60V60.4H544.80V33.7H545.00V51.0H545.20V42.5H545.40V57.0H545.60V57.4H545.80V66.4H546.00V60.4H546.20V31.3H546.40V61.5H546.60V53.0H546.80V76.4H547.00V49.1H547.20V34.7H547.40V36.8H547.60V54.9H547.80V49.2H548.00V47.3H548.20V60.1H548.40V29.3H548.60V63.0H548.80V50.0H549.00V64.8H549.20V60.7H549.40V44.9H549.60V51.9H549.80V48.7H550.00V62.1H550.20V35.4H550.40V49.1H550.60V63.3H550.80V51.7H551.00V43.4H551.20V26.7H551.40V43.7H551.60V61.1H551.80V43.6H552.00V46.8H552.20V51.5H552.40V62.5H552.60V46.8H552.80V46.4H553.00V52.1H553.20V53.4H553.40V38.2H553.60V46.8H553.80V67.0H554.00V53.2H554.20V29.2H554.40V65.6H554.60V64.3H554.80V51.8H555.00V47.9H555.20V41.7H555.40V60.9H555.60V67.3H555.80V50.2H556.00V36.2H556.20V49.0H556.40V37.6H556.60V37.3H556.80V45.8H557.00V44.3H557.20V60.3H557.40V28.5H557.60V42.3H557.80V32.3H558.00V58.2H558.20V50.1H558.40V44.4H558.60V36.9H558.80V41.4H559.00V39.8H559.20V60.1H559.40V36.6H559.60V45.5H559.80V55.8H560.00V78.3H560.20V65.4H560.40V39.1H560.60V10.8H560.80V56.7H561.00V38.4H561.20V62.4H561.40V58.6H561.60V61.8H561.80V43.4H562.00V21.1H562.20V45.8H562.40V64.5H562.60V48.5H562.80V51.6H563.00V43.3H563.20V53.4H563.40V52.5H563.60V40.4H563.80V50.0H564.00V46.4H564.20V65.0H564.40V57.0H564.60V28.4H564.80V57.8H565.00V55.5H565.20V60.5H565.40V53.7H565.60V56.4H565.80V43.5H566.00V48.2H566.20V52.9H566.40V77.4H566.60V54.3H566.80V70.1H567.00V29.4H567.20V41.9H567.40V45.3H567.60V62.3H567.80V69.9H568.00V73.6H568.20V39.3H568.40V54.6H568.60V56.5H568.80V37.6H569.00V23.8H569.20V57.9H569.40V42.6H569.60V45.5H569.80V53.9H570.00V34.6H570.20V51.7H570.40V59.2H570.60V55.7H570.80V48.2H571.00V55.6H571.20V73.7H571.40V49.9H571.60V52.8H571.80V54.0H572.00V50.0H572.20V60.6H572.40V56.3H572.60V46.3H572.80V51.0H573.00V38.2H573.20V43.2H573.40V45.8H573.60V53.6H573.80V47.2H574.00V43.0H574.20V27.0H574.40V49.0H574.60V66.2H574.80V44.4H575.00V48.0H575.20V48.1H575.40V28.5H575.60V54.5H575.80V42.1H576.00V63.6H576.20V35.6H576.40V44.9H576.60V51.1H576.80V26.7H577.00V77.8H577.20V52.2H577.40V50.1H577.60V59.0H577.80V49.0H578.00V41.9H578.20V52.6H578.40V46.7H578.60V67.6H578.80V50.0H579.00V47.1H579.20V56.4H579.40V55.2H579.60V37.4H579.80V31.3H580.00V69.5H580.20V51.3H580.40V60.4H580.60V58.2H580.80V42.7H581.00V43.4H581.20V47.9H581.40V73.3H581.60V29.1H581.80V43.7H582.00V61.2H582.20V41.1H582.40V42.8H582.60V29.1H582.80V57.1H583.00V55.6H583.20V56.7H583.40V48.2H583.60V44.8H583.80V79.1H584.00V47.3H584.20V72.7H584.40V42.8H584.60V38.0H584.80V56.2H585.00V59.1H585.20V38.4H585.40V58.7H585.60V43.0H585.80V50.3H586.00V77.3H586.20V51.9H586.40V48.4H586.60V41.6H586.80V61.7H587.00V62.7H587.20V24.4H587.40V37.5H587.60V51.7H587.80V59.1H588.00V62.2H588.20V58.3H588.40V51.1H588.60V33.1H588.80V23.8H589.00V30.0H589.20V40.1H589.40V44.9H589.60V60.0H589.80V48.8H590.00V61.5H590.20V37.5H590.40V35.0H590.60V59.0H590.80V61.7H591.00V40.4H591.20V51.1H591.40V41.5H591.60V66.2H591.80V49.6H592.00V55.8H592.20V41.8H592.40V77.7H592.60V33.4H592.80V74.1H593.00V50.2H593.20V61.9H593.40V57.4H593.60V53.7H593.80V58.0H594.00V69.0H594.20V54.1H594.40V44.3H594.60V35.5H594.80V53.8H595.00V51.0H595.20V64.7H595.40V40.0H595.60V65.3H595.80V57.3H596.00V38.8H596.20V56.0H596.40V34.7H596.60V57.7H596.80V56.7H597.00V41.8H597.20V38.4H597.40V41.1H597.60V50.4H597.80V33.6H598.00V129.9Z" fill="#08a6d0"/>
<line x1="50.3" x2="50.3" y1="128.0" y2="55.8" stroke="#fff" stroke-width="1.3" opacity="0.65"/>
<line x1="588.5" x2="588.5" y1="125.1" y2="55.8" stroke="#fff" stroke-width="0.6" opacity="0.65"/>
<line x1="583.0" x2="583.0" y1="107.4" y2="55.8" stroke="#fff" stroke-width="0.4" opacity="0.65"/>
<line x1="46.5" x2="598.0" y1="129.5" y2="129.5" stroke="#0a86a8" stroke-width="1.2"/>
<rect x="86.5" y="-0.5" width="89.0" height="19.5" fill="#fff" stroke="#c4c4c4" stroke-width="1"/>
<line x1="88.3" x2="97.5" y1="10.2" y2="10.2" stroke="#c2e3ee" stroke-width="0.9"/>
<text x="98.6" y="16.0" font-size="16" textLength="68.6" lengthAdjust="spacingAndGlyphs">Raw Data</text>
<text x="58.7" y="15.7" font-size="20" font-weight="bold">A</text>
<polyline points="46.50,269.1 46.61,265.7 46.71,264.6 46.82,269.2 46.92,268.5 47.03,262.1 47.14,269.8 47.24,268.7 47.35,264.9 47.45,269.5 47.56,259.4 47.67,265.7 47.77,264.6 47.88,259.2 47.99,268.9 48.09,269.3 48.20,242.5 48.30,269.3 48.41,261.2 48.52,251.0 48.62,260.3 48.73,248.4 48.83,263.4 48.94,269.0 49.05,263.2 49.15,269.5 49.26,255.3 49.36,265.0 49.47,258.0 49.58,270.2 49.68,260.8 49.79,269.8 49.89,269.8 50.00,255.7 50.11,259.8 50.21,269.3 50.32,262.7 50.42,264.4 50.53,265.8 50.64,269.2 50.74,259.3 50.85,255.9 50.96,262.5 51.06,251.5 51.17,267.0 51.27,268.8 51.38,254.7 51.49,256.1 51.59,267.9 51.70,253.1 51.80,264.8 51.91,250.8 52.02,269.5 52.12,269.2 52.23,257.8 52.33,252.1 52.44,256.0 52.55,255.5 52.65,266.6 52.76,250.8 52.86,237.1 52.97,260.4 53.08,255.5 53.18,256.8 53.29,268.5 53.40,257.6 53.50,267.1 53.61,245.1 53.71,264.7 53.82,254.8 53.93,249.7 54.03,265.7 54.14,262.7 54.24,252.0 54.35,268.2 54.46,269.0 54.56,265.9 54.67,269.8 54.77,261.2 54.88,246.7 54.99,255.7 55.09,241.7 55.20,251.6 55.30,267.3 55.41,250.8 55.52,261.3 55.62,244.6 55.73,269.1 55.83,249.9 55.94,263.2 56.05,250.8 56.15,248.6 56.26,252.3 56.37,269.5 56.47,257.7 56.58,250.2 56.68,267.3 56.79,261.9 56.90,264.6 57.00,254.2 57.11,250.3 57.21,234.4 57.32,258.7 57.43,255.7 57.53,262.5 57.64,249.9 57.74,262.7 57.85,262.0 57.96,269.7 58.06,265.5 58.17,248.2 58.27,261.7 58.38,254.0 58.49,250.5 58.59,249.7 58.70,251.3 58.81,251.0 58.91,251.6 59.02,262.8 59.12,254.1 59.23,258.6 59.34,266.3 59.44,248.4 59.55,254.4 59.65,246.1 59.76,261.4 59.87,257.9 59.97,265.8 60.08,230.8 60.18,258.1 60.29,259.9 60.40,238.6 60.50,262.9 60.61,265.7 60.71,246.6 60.82,269.8 60.93,268.5 61.03,256.8 61.14,255.0 61.24,265.9 61.35,256.0 61.46,250.8 61.56,264.6 61.67,254.6 61.78,248.7 61.88,265.9 61.99,261.4 62.09,245.7 62.20,263.7 62.31,258.8 62.41,249.9 62.52,253.0 62.62,267.5 62.73,256.3 62.84,254.2 62.94,254.5 63.05,244.1 63.15,250.8 63.26,257.1 63.37,263.4 63.47,258.0 63.58,255.1 63.68,263.8 63.79,245.1 63.90,253.7 64.00,246.8 64.11,260.8 64.22,269.1 64.32,245.6 64.43,260.4 64.53,259.8 64.64,261.5 64.75,249.3 64.85,269.1 64.96,241.8 65.06,270.1 65.17,260.5 65.28,248.4 65.38,269.2 65.49,253.2 65.59,257.3 65.70,258.0 65.81,253.1 65.91,242.6 66.02,254.6 66.12,248.1 66.23,261.9 66.34,254.7 66.44,256.7 66.55,247.7 66.65,256.2 66.76,254.1 66.87,249.5 66.97,241.0 67.08,269.6 67.19,254.7 67.29,262.0 67.40,252.9 67.50,257.9 67.61,251.3 67.72,264.3 67.82,247.4 67.93,244.0 68.03,253.9 68.14,258.1 68.25,245.9 68.35,266.9 68.46,248.5 68.56,252.5 68.67,257.0 68.78,259.6 68.88,251.5 68.99,264.2 69.09,250.7 69.20,259.0 69.31,249.5 69.41,262.3 69.52,268.6 69.63,252.9 69.73,259.7 69.84,246.6 69.94,268.5 70.05,264.3 70.16,251.0 70.26,255.2 70.37,260.9 70.47,250.5 70.58,245.0 70.69,256.4 70.79,242.0 70.90,253.4 71.00,268.4 71.11,253.5 71.22,251.2 71.32,265.2 71.43,244.4 71.53,243.0 71.64,255.6 71.75,268.0 71.85,255.5 71.96,259.0 72.06,243.2 72.17,268.1 72.28,253.6 72.38,252.9 72.49,260.5 72.60,257.3 72.70,257.5 72.81,255.0 72.91,260.7 73.02,261.4 73.13,246.8 73.23,269.3 73.34,262.4 73.44,252.8 73.55,259.1 73.66,250.4 73.76,266.2 73.87,250.4 73.97,260.2 74.08,248.5 74.19,251.1 74.29,263.9 74.40,247.3 74.50,241.3 74.61,267.5 74.72,252.2 74.82,249.0 74.93,259.4 75.04,251.8 75.14,260.5 75.25,259.2 75.35,253.1 75.46,249.6 75.57,257.9 75.67,252.8 75.78,255.9 75.88,258.2 75.99,255.4 76.10,258.1 76.20,269.1 76.31,252.7 76.41,254.1 76.52,266.0 76.63,255.9 76.73,246.9 76.84,245.6 76.94,268.6 77.05,262.5 77.16,263.1 77.26,255.5 77.37,255.5 77.47,253.7 77.58,240.2 77.69,260.2 77.79,266.0 77.90,244.1 78.01,254.2 78.11,264.1 78.22,237.2 78.32,250.1 78.43,269.7 78.54,251.0 78.64,269.7 78.75,255.5 78.85,245.6 78.96,262.8 79.07,262.4 79.17,261.2 79.28,267.4 79.38,269.2 79.49,269.0 79.60,268.0 79.70,269.0 79.81,257.3 79.91,252.2 80.02,240.3 80.13,243.3 80.23,250.6 80.34,250.3 80.44,260.8 80.55,254.0 80.66,263.7 80.76,250.9 80.87,256.5 80.98,261.3 81.08,246.6 81.19,260.5 81.29,250.6 81.40,252.4 81.51,247.9 81.61,248.9 81.72,257.8 81.82,257.7 81.93,268.6 82.04,266.8 82.14,262.2 82.25,250.6 82.35,251.1 82.46,251.4 82.57,265.8 82.67,263.0 82.78,254.1 82.88,266.0 82.99,254.7 83.10,255.8 83.20,248.0 83.31,257.3 83.42,250.5 83.52,257.2 83.63,269.6 83.73,254.3 83.84,251.1 83.95,261.0 84.05,251.3 84.16,257.1 84.26,270.3 84.37,248.2 84.48,269.6 84.58,264.1 84.69,261.2 84.79,249.2 84.90,256.3 85.01,234.8 85.11,261.8 85.22,261.2 85.32,255.7 85.43,269.3 85.54,266.4 85.64,262.5 85.75,258.6 85.85,268.7 85.96,252.8 86.07,264.0 86.17,270.3 86.28,253.1 86.39,262.6 86.49,242.2 86.60,252.6 86.70,261.9 86.81,238.5 86.92,250.4 87.02,262.1 87.13,258.2 87.23,252.2 87.34,245.8 87.45,248.0 87.55,260.8 87.66,246.3 87.76,233.4 87.87,269.5 87.98,251.9 88.08,259.9 88.19,250.9 88.29,248.9 88.40,260.1 88.51,252.8 88.61,260.7 88.72,256.7 88.83,265.4 88.93,262.5 89.04,254.9 89.14,257.2 89.25,245.2 89.36,250.0 89.46,247.2 89.57,267.9 89.67,254.3 89.78,250.7 89.89,252.7 89.99,270.0 90.10,256.6 90.20,262.3 90.31,249.9 90.42,269.2 90.52,250.1 90.63,249.0 90.73,239.7 90.84,252.0 90.95,251.3 91.05,249.2 91.16,258.3 91.26,252.5 91.37,254.4 91.48,244.6 91.58,235.7 91.69,247.9 91.80,253.1 91.90,249.1 92.01,248.1 92.11,257.8 92.22,245.6 92.33,246.1 92.43,258.5 92.54,255.9 92.64,264.1 92.75,252.6 92.86,242.3 92.96,264.2 93.07,252.2 93.17,252.0 93.28,250.4 93.39,262.0 93.49,245.7 93.60,268.9 93.70,269.0 93.81,241.0 93.92,248.0 94.02,254.1 94.13,245.7 94.24,249.4 94.34,252.6 94.45,266.7 94.55,256.7 94.66,252.8 94.77,256.6 94.87,251.6 94.98,255.6 95.08,241.3 95.19,251.1 95.30,258.5 95.40,241.1 95.51,254.8 95.61,266.7 95.72,267.1 95.83,257.5 95.93,260.4 96.04,265.8 96.14,248.5 96.25,249.4 96.36,248.2 96.46,247.8 96.57,268.6 96.67,252.2 96.78,256.8 96.89,258.3 96.99,258.9 97.10,258.9 97.21,257.5 97.31,243.1 97.42,241.1 97.52,238.5 97.63,240.8 97.74,250.6 97.84,262.5 97.95,265.4 98.05,254.2 98.16,234.5 98.27,239.7 98.37,255.0 98.48,262.8 98.58,255.4 98.69,239.9 98.80,269.3 98.90,247.6 99.01,259.9 99.11,256.8 99.22,242.0 99.33,267.7 99.43,257.1 99.54,239.3 99.65,259.6 99.75,265.8 99.86,258.6 99.96,241.5 100.07,245.3 100.18,250.4 100.28,246.6 100.39,253.4 100.49,239.3 100.60,257.0 100.71,256.0 100.81,270.1 100.92,255.2 101.02,250.1 101.13,253.0 101.24,252.9 101.34,261.2 101.45,256.4 101.55,247.0 101.66,253.0 101.77,269.9 101.87,248.3 101.98,257.7 102.08,257.3 102.19,245.9 102.30,245.7 102.40,249.4 102.51,252.1 102.62,257.4 102.72,263.3 102.83,241.4 102.93,259.9 103.04,255.6 103.15,254.9 103.25,255.7 103.36,248.1 103.46,245.0 103.57,227.2 103.68,264.9 103.78,265.3 103.89,250.0 103.99,251.3 104.10,251.9 104.21,261.0 104.31,258.5 104.42,261.8 104.52,258.3 104.63,251.4 104.74,243.5 104.84,261.6 104.95,268.6 105.06,246.9 105.16,244.4 105.27,256.1 105.37,259.3 105.48,259.5 105.59,255.1 105.69,256.5 105.80,250.6 105.90,259.4 106.01,230.4 106.12,264.9 106.22,255.2 106.33,264.2 106.43,260.8 106.54,257.3 106.65,258.5 106.75,249.9 106.86,267.3 106.96,251.4 107.07,247.2 107.18,269.7 107.28,249.1 107.39,252.7 107.49,261.0 107.60,237.9 107.71,258.8 107.81,248.0 107.92,246.8 108.03,250.3 108.13,256.4 108.24,256.9 108.34,241.6 108.45,259.6 108.56,231.6 108.66,238.1 108.77,248.4 108.87,254.6 108.98,262.3 109.09,247.2 109.19,250.8 109.30,262.6 109.40,252.7 109.51,266.2 109.62,228.6 109.72,243.3 109.83,259.5 109.93,249.1 110.04,247.0 110.15,237.0 110.25,269.1 110.36,261.1 110.47,249.7 110.57,258.2 110.68,269.7 110.78,252.7 110.89,260.4 111.00,258.7 111.10,255.4 111.21,252.8 111.31,254.1 111.42,259.8 111.53,260.7 111.63,265.5 111.74,253.8 111.84,267.9 111.95,255.0 112.06,252.2 112.16,253.2 112.27,254.2 112.37,269.7 112.48,252.6 112.59,268.1 112.69,250.6 112.80,260.9 112.90,264.3 113.01,253.1 113.12,250.4 113.22,249.2 113.33,251.2 113.44,263.6 113.54,258.0 113.65,263.6 113.75,258.1 113.86,264.0 113.97,266.0 114.07,254.6 114.18,245.0 114.28,260.5 114.39,255.9 114.50,266.3 114.60,263.6 114.71,229.4 114.81,260.5 114.92,257.9 115.03,262.1 115.13,259.9 115.24,250.5 115.34,269.0 115.45,267.1 115.56,254.5 115.66,247.3 115.77,264.4 115.88,253.8 115.98,252.6 116.09,258.1 116.19,242.0 116.30,241.9 116.41,251.2 116.51,267.5 116.62,268.4 116.72,254.6 116.83,238.5 116.94,254.6 117.04,255.6 117.15,253.3 117.25,255.2 117.36,251.3 117.47,262.2 117.57,252.6 117.68,252.7 117.78,257.0 117.89,257.9 118.00,247.1 118.10,244.0 118.21,257.0 118.31,256.5 118.42,252.5 118.53,260.1 118.63,246.4 118.74,263.9 118.85,249.0 118.95,236.3 119.06,240.6 119.16,255.4 119.27,250.8 119.38,270.0 119.48,255.5 119.59,257.3 119.69,253.6 119.80,269.5 119.91,256.7 120.01,263.2 120.12,261.3 120.22,260.0 120.33,239.0 120.44,248.4 120.54,259.4 120.65,260.3 120.75,263.9 120.86,269.3 120.97,266.4 121.07,258.3 121.18,251.8 121.29,259.2 121.39,253.5 121.50,247.0 121.60,251.8 121.71,269.1 121.82,253.1 121.92,256.1 122.03,258.9 122.13,261.7 122.24,249.9 122.35,262.8 122.45,258.4 122.56,253.6 122.66,259.7 122.77,260.0 122.88,261.4 122.98,247.2 123.09,265.0 123.19,244.4 123.30,255.5 123.41,260.0 123.51,249.0 123.62,269.9 123.72,269.9 123.83,267.8 123.94,238.2 124.04,257.6 124.15,269.7 124.26,261.7 124.36,248.5 124.47,255.7 124.57,260.9 124.68,239.5 124.79,252.3 124.89,250.5 125.00,249.0 125.10,245.1 125.21,248.4 125.32,269.3 125.42,260.4 125.53,249.5 125.63,251.5 125.74,259.1 125.85,256.4 125.95,265.7 126.06,255.3 126.16,256.0 126.27,239.7 126.38,258.4 126.48,257.7 126.59,240.5 126.70,256.9 126.80,261.1 126.91,252.9 127.01,247.7 127.12,240.3 127.23,243.3 127.33,229.3 127.44,253.4 127.54,249.6 127.65,257.0 127.76,256.6 127.86,252.4 127.97,263.5 128.07,247.8 128.18,254.3 128.29,245.8 128.39,252.2 128.50,251.0 128.60,258.7 128.71,256.7 128.82,260.1 128.92,251.0 129.03,255.3 129.13,261.2 129.24,255.4 129.35,256.0 129.45,241.0 129.56,253.3 129.67,246.2 129.77,257.2 129.88,246.0 129.98,258.9 130.09,239.1 130.20,269.0 130.30,253.6 130.41,246.1 130.51,258.9 130.62,251.7 130.73,246.3 130.83,243.2 130.94,255.4 131.04,250.8 131.15,260.4 131.26,240.6 131.36,256.9 131.47,241.0 131.57,261.3 131.68,242.2 131.79,240.8 131.89,247.0 132.00,249.5 132.11,250.2 132.21,257.1 132.32,239.9 132.42,256.7 132.53,252.8 132.64,254.8 132.74,260.5 132.85,269.0 132.95,254.4 133.06,249.4 133.17,238.2 133.27,257.1 133.38,249.9 133.48,240.9 133.59,248.0 133.70,255.2 133.80,256.0 133.91,249.8 134.01,259.5 134.12,254.2 134.23,243.0 134.33,263.1 134.44,255.8 134.54,242.4 134.65,253.7 134.76,252.3 134.86,255.6 134.97,260.5 135.08,256.4 135.18,248.2 135.29,246.4 135.39,238.1 135.50,251.3 135.61,246.2 135.71,260.8 135.82,256.9 135.92,268.9 136.03,255.4 136.14,249.5 136.24,240.8 136.35,263.6 136.45,253.7 136.56,263.4 136.67,254.5 136.77,266.4 136.88,257.5 136.98,254.3 137.09,248.8 137.20,235.2 137.30,261.2 137.41,255.1 137.52,251.9 137.62,261.6 137.73,269.8 137.83,260.5 137.94,262.2 138.05,259.0 138.15,255.1 138.26,263.6 138.36,269.3 138.47,255.4 138.58,256.2 138.68,242.7 138.79,269.9 138.89,255.8 139.00,243.2 139.11,255.3 139.21,254.4 139.32,266.7 139.42,268.8 139.53,256.9 139.64,259.6 139.74,255.6 139.85,255.5 139.95,267.7 140.06,246.7 140.17,251.8 140.27,261.4 140.38,251.5 140.49,250.7 140.59,251.8 140.70,249.4 140.80,248.6 140.91,252.3 141.02,238.2 141.12,259.6 141.23,263.5 141.33,262.1 141.44,270.2 141.55,239.0 141.65,266.3 141.76,259.2 141.86,268.3 141.97,251.4 142.08,246.8 142.18,243.1 142.29,258.2 142.39,261.7 142.50,257.5 142.61,258.7 142.71,247.3 142.82,259.8 142.92,269.2 143.03,242.1 143.14,268.1 143.24,257.9 143.35,263.2 143.46,253.8 143.56,247.9 143.67,253.2 143.77,254.9 143.88,264.2 143.99,269.4 144.09,263.2 144.20,261.6 144.30,268.0 144.41,268.8 144.52,243.4 144.62,244.7 144.73,254.0 144.83,237.1 144.94,265.2 145.05,249.3 145.15,266.8 145.26,257.9 145.36,263.7 145.47,254.7 145.58,251.7 145.68,236.4 145.79,253.6 145.90,255.0 146.00,261.7 146.11,248.6 146.21,269.9 146.32,260.4 146.43,269.8 146.53,251.6 146.64,256.1 146.74,265.3 146.85,263.9 146.96,245.7 147.06,261.5 147.17,256.5 147.27,244.1 147.38,270.3 147.49,268.8 147.59,268.1 147.70,262.4 147.80,246.9 147.91,245.5 148.02,263.5 148.12,259.3 148.23,268.8 148.33,255.1 148.44,249.1 148.55,254.9 148.65,239.3 148.76,270.1 148.87,260.6 148.97,261.3 149.08,250.3 149.18,265.3 149.29,258.5 149.40,253.2 149.50,235.2 149.61,256.8 149.71,266.2 149.82,257.4 149.93,269.8 150.03,243.8 150.14,257.2 150.24,255.5 150.35,262.3 150.46,252.8 150.56,269.3 150.67,244.2 150.77,264.7 150.88,259.6 150.99,262.4 151.09,257.9 151.20,256.3 151.31,247.2 151.41,260.3 151.52,263.6 151.62,246.9 151.73,238.3 151.84,248.8 151.94,261.8 152.05,250.9 152.15,261.0 152.26,257.9 152.37,250.7 152.47,252.3 152.58,259.9 152.68,245.9 152.79,247.0 152.90,259.9 153.00,263.8 153.11,262.0 153.21,245.7 153.32,255.7 153.43,253.0 153.53,237.9 153.64,260.9 153.74,224.6 153.85,259.4 153.96,256.9 154.06,263.3 154.17,249.5 154.28,269.3 154.38,236.1 154.49,252.7 154.59,255.4 154.70,258.6 154.81,251.5 154.91,258.3 155.02,254.2 155.12,269.0 155.23,257.0 155.34,248.0 155.44,252.0 155.55,252.2 155.65,269.1 155.76,269.4 155.87,259.4 155.97,270.2 156.08,257.0 156.18,254.0 156.29,247.3 156.40,260.4 156.50,249.3 156.61,250.1 156.72,258.3 156.82,252.5 156.93,262.3 157.03,270.3 157.14,254.4 157.25,263.1 157.35,259.6 157.46,248.9 157.56,257.5 157.67,257.8 157.78,261.8 157.88,249.7 157.99,251.0 158.09,239.4 158.20,259.0 158.31,248.4 158.41,261.9 158.52,238.9 158.62,249.9 158.73,249.4 158.84,263.9 158.94,261.1 159.05,242.4 159.15,253.7 159.26,252.7 159.37,263.2 159.47,255.4 159.58,214.6 159.69,256.2 159.79,248.4 159.90,262.7 160.00,253.5 160.11,257.8 160.22,263.7 160.32,249.0 160.43,268.8 160.53,237.6 160.64,255.0 160.75,243.3 160.85,256.0 160.96,249.8 161.06,269.7 161.17,260.6 161.28,260.5 161.38,257.4 161.49,270.0 161.59,266.6 161.70,258.5 161.81,266.1 161.91,239.8 162.02,246.7 162.13,265.5 162.23,248.4 162.34,258.8 162.44,256.9 162.55,258.8 162.66,262.3 162.76,269.4 162.87,264.3 162.97,269.7 163.08,255.3 163.19,256.4 163.29,256.5 163.40,261.8 163.50,270.2 163.61,249.5 163.72,246.2 163.82,269.7 163.93,252.8 164.03,251.2 164.14,262.5 164.25,246.1 164.35,252.2 164.46,254.3 164.56,257.1 164.67,259.9 164.78,255.7 164.88,238.6 164.99,259.9 165.10,250.9 165.20,247.6 165.31,269.0 165.41,252.3 165.52,263.0 165.63,267.5 165.73,265.2 165.84,256.7 165.94,269.5 166.05,257.6 166.16,269.1 166.26,259.2 166.37,260.7 166.47,249.7 166.58,250.8 166.69,252.2 166.79,269.3 166.90,254.4 167.00,261.3 167.11,259.2 167.22,270.1 167.32,258.5 167.43,247.8 167.54,244.9 167.64,255.9 167.75,269.8 167.85,251.8 167.96,257.0 168.07,254.3 168.17,269.6 168.28,269.2 168.38,246.9 168.49,262.5 168.60,243.3 168.70,260.7 168.81,252.1 168.91,269.9 169.02,238.8 169.13,258.4 169.23,264.0 169.34,250.0 169.44,250.9 169.55,257.9 169.66,251.5 169.76,258.0 169.87,247.5 169.97,250.7 170.08,251.5 170.19,252.1 170.29,269.2 170.40,254.1 170.51,264.3 170.61,258.8 170.72,259.9 170.82,256.4 170.93,260.4 171.04,255.7 171.14,253.9 171.25,254.7 171.35,250.4 171.46,270.3 171.57,262.7 171.67,264.6 171.78,260.2 171.88,267.6 171.99,269.7 172.10,250.1 172.20,269.3 172.31,250.1 172.41,253.6 172.52,256.6 172.63,252.4 172.73,251.5 172.84,267.5 172.95,269.0 173.05,262.3 173.16,260.7 173.26,268.9 173.37,259.1 173.48,269.7 173.58,252.7 173.69,268.7 173.79,267.1 173.90,254.0 174.01,253.3 174.11,262.9 174.22,246.9 174.32,265.4 174.43,246.3 174.54,253.6 174.64,269.1 174.75,262.1 174.85,256.2 174.96,260.0 175.07,255.6 175.17,257.5 175.28,268.5 175.38,267.4 175.49,263.0 175.60,269.0 175.70,244.8 175.81,266.4 175.92,256.9 176.02,243.2 176.13,262.0 176.23,261.4 176.34,231.4 176.45,264.2 176.55,261.8 176.66,244.0 176.76,249.2 176.87,252.4 176.98,248.6 177.08,270.0 177.19,259.1 177.29,258.5 177.40,238.4 177.51,243.6 177.61,259.6 177.72,268.8 177.82,244.2 177.93,269.4 178.04,258.7 178.14,258.1 178.25,252.0 178.36,259.1 178.46,269.4 178.57,247.9 178.67,270.0 178.78,256.4 178.89,264.6 178.99,253.7 179.10,269.1 179.20,265.3 179.31,261.2 179.42,247.7 179.52,268.8 179.63,268.6 179.73,263.3 179.84,257.9 179.95,255.7 180.05,254.3 180.16,268.1 180.26,242.3 180.37,247.0 180.48,256.1 180.58,248.2 180.69,265.7 180.79,269.2 180.90,249.8 181.01,261.6 181.11,266.4 181.22,263.7 181.33,254.0 181.43,254.1 181.54,265.1 181.64,256.0 181.75,258.3 181.86,256.6 181.96,265.7 182.07,255.4 182.17,244.3 182.28,256.8 182.39,258.0 182.49,259.5 182.60,259.9 182.70,251.5 182.81,249.9 182.92,253.2 183.02,260.5 183.13,251.5 183.23,263.0 183.34,251.3 183.45,253.3 183.55,250.7 183.66,252.9 183.77,265.2 183.87,245.7 183.98,256.9 184.08,259.1 184.19,247.4 184.30,266.9 184.40,249.9 184.51,264.0 184.61,243.3 184.72,254.8 184.83,249.2 184.93,260.5 185.04,269.8 185.14,258.6 185.25,256.9 185.36,242.3 185.46,256.6 185.57,245.8 185.67,259.4 185.78,257.5 185.89,268.3 185.99,249.1 186.10,250.8 186.20,257.6 186.31,264.8 186.42,269.0 186.52,245.9 186.63,263.3 186.74,260.8 186.84,254.8 186.95,256.8 187.05,252.7 187.16,248.5 187.27,257.9 187.37,251.4 187.48,249.8 187.58,240.6 187.69,251.1 187.80,252.3 187.90,256.6 188.01,251.0 188.11,254.2 188.22,263.7 188.33,250.5 188.43,269.8 188.54,242.5 188.64,254.4 188.75,258.3 188.86,270.1 188.96,260.2 189.07,259.9 189.18,264.5 189.28,259.9 189.39,264.0 189.49,269.2 189.60,268.3 189.71,246.2 189.81,256.9 189.92,265.4 190.02,259.9 190.13,245.5 190.24,264.4 190.34,257.9 190.45,257.5 190.55,261.6 190.66,250.8 190.77,260.4 190.87,254.5 190.98,256.5 191.08,258.0 191.19,267.4 191.30,257.9 191.40,266.9 191.51,253.1 191.61,261.0 191.72,251.5 191.83,251.6 191.93,264.3 192.04,263.5 192.15,257.9 192.25,265.0 192.36,243.5 192.46,251.0 192.57,262.3 192.68,251.3 192.78,269.5 192.89,260.6 192.99,256.0 193.10,263.5 193.21,261.6 193.31,254.6 193.42,249.0 193.52,263.4 193.63,254.8 193.74,256.0 193.84,251.1 193.95,246.7 194.05,249.9 194.16,257.6 194.27,263.1 194.37,255.1 194.48,238.0 194.59,258.1 194.69,251.4 194.80,262.9 194.90,257.4 195.01,252.5 195.12,256.6 195.22,262.1 195.33,264.5 195.43,259.0 195.54,249.7 195.65,250.9 195.75,243.9 195.86,262.3 195.96,268.2 196.07,253.9 196.18,257.2 196.28,258.8 196.39,254.2 196.49,245.9 196.60,248.0 196.71,245.7 196.81,259.1 196.92,253.9 197.02,259.7 197.13,254.3 197.24,268.7 197.34,254.4 197.45,243.2 197.56,248.9 197.66,263.7 197.77,268.7 197.87,259.5 197.98,253.8 198.09,247.9 198.19,249.5 198.30,265.2 198.40,261.6 198.51,260.5 198.62,261.7 198.72,245.6 198.83,259.0 198.93,260.0 199.04,268.2 199.15,262.2 199.25,259.3 199.36,251.0 199.46,235.9 199.57,261.3 199.68,256.9 199.78,262.1 199.89,270.1 199.99,251.7 200.10,246.2 200.21,257.3 200.31,242.7 200.42,254.7 200.53,253.8 200.63,242.8 200.74,259.7 200.84,268.1 200.95,252.6 201.06,268.5 201.16,270.2 201.27,250.0 201.37,257.6 201.48,242.9 201.59,250.2 201.69,259.3 201.80,263.6 201.90,258.5 202.01,263.4 202.12,232.2 202.22,249.5 202.33,241.5 202.43,252.1 202.54,252.0 202.65,249.3 202.75,259.9 202.86,270.2 202.97,257.4 203.07,263.7 203.18,259.0 203.28,264.7 203.39,250.8 203.50,258.5 203.60,252.0 203.71,259.6 203.81,252.1 203.92,263.3 204.03,265.3 204.13,266.0 204.24,253.9 204.34,260.4 204.45,227.8 204.56,252.4 204.66,255.7 204.77,248.8 204.87,269.9 204.98,259.1 205.09,249.7 205.19,239.8 205.30,261.4 205.40,250.1 205.51,240.3 205.62,258.3 205.72,258.0 205.83,262.1 205.94,252.9 206.04,266.1 206.15,247.0 206.25,248.9 206.36,248.8 206.47,240.5 206.57,263.5 206.68,268.4 206.78,254.6 206.89,269.0 207.00,257.3 207.10,264.7 207.21,250.4 207.31,260.5 207.42,256.1 207.53,256.7 207.63,261.3 207.74,262.7 207.84,229.0 207.95,251.7 208.06,262.2 208.16,252.4 208.27,251.8 208.38,269.1 208.48,262.1 208.59,262.3 208.69,257.6 208.80,263.0 208.91,253.5 209.01,244.7 209.12,250.8 209.22,261.2 209.33,252.9 209.44,251.1 209.54,253.8 209.65,255.6 209.75,243.4 209.86,247.8 209.97,249.5 210.07,251.8 210.18,267.8 210.28,256.9 210.39,251.5 210.50,249.8 210.60,248.4 210.71,234.8 210.81,254.9 210.92,265.5 211.03,242.9 211.13,269.3 211.24,253.5 211.35,269.3 211.45,246.9 211.56,247.2 211.66,256.6 211.77,257.5 211.88,257.7 211.98,262.5 212.09,261.3 212.19,245.2 212.30,247.0 212.41,243.3 212.51,239.4 212.62,264.6 212.72,261.0 212.83,254.2 212.94,255.7 213.04,257.9 213.15,269.8 213.25,254.1 213.36,246.6 213.47,243.3 213.57,254.8 213.68,267.5 213.79,243.1 213.89,255.0 214.00,259.9 214.10,266.7 214.21,252.4 214.32,254.7 214.42,258.7 214.53,239.7 214.63,253.4 214.74,262.9 214.85,262.2 214.95,259.3 215.06,240.8 215.16,256.7 215.27,257.6 215.38,259.6 215.48,259.5 215.59,242.2 215.69,245.8 215.80,245.3 215.91,254.2 216.01,260.6 216.12,251.5 216.22,261.5 216.33,264.2 216.44,245.7 216.54,269.9 216.65,259.9 216.76,258.6 216.86,252.3 216.97,259.9 217.07,263.5 217.18,264.5 217.29,269.1 217.39,252.2 217.50,242.0 217.60,262.7 217.71,261.4 217.82,239.1 217.92,240.3 218.03,263.0 218.13,253.6 218.24,265.8 218.35,250.9 218.45,252.0 218.56,254.2 218.66,248.4 218.77,257.4 218.88,262.8 218.98,258.0 219.09,240.0 219.20,239.9 219.30,245.6 219.41,261.6 219.51,255.7 219.62,257.2 219.73,241.6 219.83,255.5 219.94,254.3 220.04,254.7 220.15,249.2 220.26,252.7 220.36,243.6 220.47,251.3 220.57,256.0 220.68,235.7 220.79,233.8 220.89,256.4 221.00,260.1 221.10,254.7 221.21,252.7 221.32,240.9 221.42,252.2 221.53,236.8 221.63,243.5 221.74,258.6 221.85,259.6 221.95,254.5 222.06,244.0 222.17,248.6 222.27,246.7 222.38,261.6 222.48,250.1 222.59,245.6 222.70,252.2 222.80,252.1 222.91,264.0 223.01,257.7 223.12,248.8 223.23,265.7 223.33,261.5 223.44,258.3 223.54,253.8 223.65,252.6 223.76,249.5 223.86,239.4 223.97,252.2 224.07,270.0 224.18,259.2 224.29,254.8 224.39,250.2 224.50,253.6 224.61,249.9 224.71,256.6 224.82,259.0 224.92,260.6 225.03,268.4 225.14,268.8 225.24,258.1 225.35,245.5 225.45,260.2 225.56,257.1 225.67,246.4 225.77,253.1 225.88,258.6 225.98,255.0 226.09,250.8 226.20,250.4 226.30,257.1 226.41,255.1 226.51,266.6 226.62,265.8 226.73,259.3 226.83,253.5 226.94,254.5 227.04,255.6 227.15,250.2 227.26,265.6 227.36,254.9 227.47,258.0 227.58,262.9 227.68,253.3 227.79,268.8 227.89,249.6 228.00,267.2 228.11,265.4 228.21,252.1 228.32,248.8 228.42,270.3 228.53,252.6 228.64,243.1 228.74,237.6 228.85,247.4 228.95,226.8 229.06,254.9 229.17,250.0 229.27,243.3 229.38,257.0 229.48,249.3 229.59,259.1 229.70,262.3 229.80,258.0 229.91,243.2 230.02,244.4 230.12,258.7 230.23,255.2 230.33,255.7 230.44,246.9 230.55,262.2 230.65,242.7 230.76,256.5 230.86,269.2 230.97,258.1 231.08,258.4 231.18,244.9 231.29,264.5 231.39,263.6 231.50,256.2 231.61,260.7 231.71,269.5 231.82,263.7 231.92,266.1 232.03,269.4 232.14,246.2 232.24,264.4 232.35,260.0 232.45,251.4 232.56,258.7 232.67,248.8 232.77,266.0 232.88,259.5 232.99,246.4 233.09,269.6 233.20,236.8 233.30,249.3 233.41,252.3 233.52,259.3 233.62,264.6 233.73,259.5 233.83,267.9 233.94,265.2 234.05,248.2 234.15,253.6 234.26,259.0 234.36,246.2 234.47,250.7 234.58,252.5 234.68,250.1 234.79,262.3 234.89,266.8 235.00,264.1 235.11,234.9 235.21,252.7 235.32,265.8 235.43,258.5 235.53,260.2 235.64,263.0 235.74,267.8 235.85,260.1 235.96,266.3 236.06,256.7 236.17,248.9 236.27,256.3 236.38,258.1 236.49,257.2 236.59,247.1 236.70,257.3 236.80,251.8 236.91,269.5 237.02,255.4 237.12,254.1 237.23,264.0 237.33,259.2 237.44,264.1 237.55,248.9 237.65,260.8 237.76,247.4 237.86,246.0 237.97,263.6 238.08,239.6 238.18,247.6 238.29,253.6 238.40,245.2 238.50,246.3 238.61,244.7 238.71,255.9 238.82,258.5 238.93,255.5 239.03,247.3 239.14,263.8 239.24,256.5 239.35,267.6 239.46,260.8 239.56,248.4 239.67,250.4 239.77,264.6 239.88,258.5 239.99,250.5 240.09,262.8 240.20,247.4 240.30,264.8 240.41,258.2 240.52,247.3 240.62,260.0 240.73,255.8 240.84,249.1 240.94,269.1 241.05,250.9 241.15,253.5 241.26,266.9 241.37,254.0 241.47,257.9 241.58,256.9 241.68,254.2 241.79,249.4 241.90,254.7 242.00,260.6 242.11,255.2 242.21,263.1 242.32,269.1 242.43,256.3 242.53,242.5 242.64,265.8 242.74,253.1 242.85,259.0 242.96,253.7 243.06,245.9 243.17,258.8 243.27,248.3 243.38,252.9 243.49,255.3 243.59,254.0 243.70,248.2 243.81,251.8 243.91,248.1 244.02,270.2 244.12,258.3 244.23,254.2 244.34,264.8 244.44,243.1 244.55,241.8 244.65,250.3 244.76,269.5 244.87,267.8 244.97,269.0 245.08,257.7 245.18,245.5 245.29,251.5 245.40,257.5 245.50,253.0 245.61,255.6 245.71,252.1 245.82,257.1 245.93,249.8 246.03,259.1 246.14,249.2 246.25,259.2 246.35,245.8 246.46,246.6 246.56,240.8 246.67,257.4 246.78,255.8 246.88,223.6 246.99,261.6 247.09,247.8 247.20,253.2 247.31,243.1 247.41,254.2 247.52,242.4 247.62,259.8 247.73,242.6 247.84,261.0 247.94,252.2 248.05,254.0 248.15,264.2 248.26,258.3 248.37,239.8 248.47,247.7 248.58,244.9 248.68,257.0 248.79,259.3 248.90,261.5 249.00,245.1 249.11,260.2 249.22,268.7 249.32,242.6 249.43,236.9 249.53,255.1 249.64,255.8 249.75,257.5 249.85,257.2 249.96,254.8 250.06,257.1 250.17,239.4 250.28,251.9 250.38,253.3 250.49,257.9 250.59,249.3 250.70,246.1 250.81,265.4 250.91,256.6 251.02,250.6 251.12,247.7 251.23,264.2 251.34,265.0 251.44,256.1 251.55,254.4 251.66,266.4 251.76,254.7 251.87,263.5 251.97,235.4 252.08,256.0 252.19,263.8 252.29,262.5 252.40,263.5 252.50,252.0 252.61,251.7 252.72,258.6 252.82,257.3 252.93,245.9 253.03,253.4 253.14,260.3 253.25,248.8 253.35,268.9 253.46,247.5 253.56,240.3 253.67,251.5 253.78,258.0 253.88,262.1 253.99,244.8 254.09,261.6 254.20,256.1 254.31,250.5 254.41,252.6 254.52,239.3 254.63,250.0 254.73,267.3 254.84,254.8 254.94,251.0 255.05,253.2 255.16,256.2 255.26,265.8 255.37,267.9 255.47,256.8 255.58,261.1 255.69,266.8 255.79,257.2 255.90,264.2 256.00,252.3 256.11,252.3 256.22,246.6 256.32,262.9 256.43,248.1 256.53,263.9 256.64,249.9 256.75,259.4 256.85,243.8 256.96,255.4 257.07,243.9 257.17,260.8 257.28,267.1 257.38,249.1 257.49,261.6 257.60,258.1 257.70,263.0 257.81,257.1 257.91,249.0 258.02,243.9 258.13,252.4 258.23,267.7 258.34,251.5 258.44,257.1 258.55,258.2 258.66,237.8 258.76,269.0 258.87,248.4 258.97,251.2 259.08,241.1 259.19,246.7 259.29,239.8 259.40,249.9 259.50,252.9 259.61,246.6 259.72,256.7 259.82,254.5 259.93,255.4 260.04,257.7 260.14,253.6 260.25,241.6 260.35,249.3 260.46,253.7 260.57,267.2 260.67,267.3 260.78,250.0 260.88,254.0 260.99,266.3 261.10,262.0 261.20,268.6 261.31,235.9 261.41,258.4 261.52,247.1 261.63,262.7 261.73,252.8 261.84,259.5 261.94,252.1 262.05,256.4 262.16,263.6 262.26,258.0 262.37,241.2 262.47,258.6 262.58,248.1 262.69,253.6 262.79,263.8 262.90,258.9 263.01,266.8 263.11,245.7 263.22,241.7 263.32,249.2 263.43,235.3 263.54,253.3 263.64,265.0 263.75,244.8 263.85,258.5 263.96,258.8 264.07,264.7 264.17,239.6 264.28,266.4 264.38,269.9 264.49,246.4 264.60,258.1 264.70,269.6 264.81,260.2 264.91,255.1 265.02,249.6 265.13,248.1 265.23,249.0 265.34,246.9 265.45,245.6 265.55,243.3 265.66,256.4 265.76,261.7 265.87,266.3 265.98,264.1 266.08,264.2 266.19,261.0 266.29,257.4 266.40,260.2 266.51,269.4 266.61,256.5 266.72,254.5 266.82,263.6 266.93,269.4 267.04,258.7 267.14,264.4 267.25,258.9 267.35,259.5 267.46,246.0 267.57,249.1 267.67,247.2 267.78,260.1 267.88,250.9 267.99,269.6 268.10,245.9 268.20,258.1 268.31,262.2 268.42,251.9 268.52,250.9 268.63,255.2 268.73,252.9 268.84,261.9 268.95,253.3 269.05,262.4 269.16,239.8 269.26,254.8 269.37,263.6 269.48,260.2 269.58,257.6 269.69,259.0 269.79,256.5 269.90,259.7 270.01,260.2 270.11,247.8 270.22,254.8 270.32,264.7 270.43,256.6 270.54,249.2 270.64,262.8 270.75,258.0 270.86,265.4 270.96,243.7 271.07,268.6 271.17,265.0 271.28,253.7 271.39,259.8 271.49,255.1 271.60,233.7 271.70,268.4 271.81,246.3 271.92,255.8 272.02,262.9 272.13,257.4 272.23,245.0 272.34,254.4 272.45,254.2 272.55,251.8 272.66,238.5 272.76,251.0 272.87,251.6 272.98,248.2 273.08,252.6 273.19,250.8 273.29,258.3 273.40,258.4 273.51,252.6 273.61,256.4 273.72,249.3 273.83,262.3 273.93,250.1 274.04,262.3 274.14,269.1 274.25,270.2 274.36,256.4 274.46,253.4 274.57,244.6 274.67,245.5 274.78,257.8 274.89,239.6 274.99,247.1 275.10,251.7 275.20,252.0 275.31,246.3 275.42,262.9 275.52,248.1 275.63,250.7 275.73,255.3 275.84,266.2 275.95,246.6 276.05,247.4 276.16,257.6 276.27,252.2 276.37,249.7 276.48,254.0 276.58,255.6 276.69,251.1 276.80,261.1 276.90,236.8 277.01,246.3 277.11,250.5 277.22,270.0 277.33,252.2 277.43,258.2 277.54,258.6 277.64,254.0 277.75,269.0 277.86,250.2 277.96,244.7 278.07,270.1 278.17,255.1 278.28,265.1 278.39,258.1 278.49,240.1 278.60,245.2 278.70,254.5 278.81,269.1 278.92,256.1 279.02,257.1 279.13,261.3 279.24,262.4 279.34,259.3 279.45,255.6 279.55,240.2 279.66,246.8 279.77,235.7 279.87,252.0 279.98,259.0 280.08,258.2 280.19,258.6 280.30,251.6 280.40,248.7 280.51,260.1 280.61,255.3 280.72,240.1 280.83,250.0 280.93,256.9 281.04,257.7 281.14,260.8 281.25,247.6 281.36,257.5 281.46,258.8 281.57,253.4 281.68,263.2 281.78,252.9 281.89,254.0 281.99,251.6 282.10,262.2 282.21,258.6 282.31,269.0 282.42,265.8 282.52,240.3 282.63,264.8 282.74,265.8 282.84,255.7 282.95,252.8 283.05,255.1 283.16,257.6 283.27,267.7 283.37,249.3 283.48,254.8 283.58,260.9 283.69,258.9 283.80,246.8 283.90,246.6 284.01,258.0 284.11,253.8 284.22,252.8 284.33,251.5 284.43,259.0 284.54,252.3 284.65,252.6 284.75,264.1 284.86,248.7 284.96,246.2 285.07,250.4 285.18,252.9 285.28,244.9 285.39,258.9 285.49,257.0 285.60,255.1 285.71,253.3 285.81,254.0 285.92,251.0 286.02,255.5 286.13,254.4 286.24,258.1 286.34,259.1 286.45,262.0 286.55,255.8 286.66,255.9 286.77,245.0 286.87,243.6 286.98,248.1 287.09,257.9 287.19,269.4 287.30,253.2 287.40,257.8 287.51,254.1 287.62,243.3 287.72,257.6 287.83,240.7 287.93,247.3 288.04,256.0 288.15,260.8 288.25,269.0 288.36,245.6 288.46,253.1 288.57,251.6 288.68,246.8 288.78,269.0 288.89,247.7 288.99,244.1 289.10,257.4 289.21,250.0 289.31,247.6 289.42,245.6 289.52,245.7 289.63,265.4 289.74,239.8 289.84,266.8 289.95,269.9 290.06,264.9 290.16,257.9 290.27,262.7 290.37,249.1 290.48,262.4 290.59,248.6 290.69,260.7 290.80,269.2 290.90,257.5 291.01,251.0 291.12,261.7 291.22,247.4 291.33,249.6 291.43,270.2 291.54,228.8 291.65,268.5 291.75,252.2 291.86,267.3 291.96,252.2 292.07,259.4 292.18,262.4 292.28,247.3 292.39,243.3 292.50,264.7 292.60,258.4 292.71,252.7 292.81,255.7 292.92,261.2 293.03,249.4 293.13,261.0 293.24,243.7 293.34,260.9 293.45,246.2 293.56,261.9 293.66,239.2 293.77,253.4 293.87,258.6 293.98,267.2 294.09,255.2 294.19,257.2 294.30,249.1 294.40,251.1 294.51,247.1 294.62,248.0 294.72,252.8 294.83,262.8 294.93,261.1 295.04,252.5 295.15,259.9 295.25,270.2 295.36,249.3 295.47,242.5 295.57,250.3 295.68,262.2 295.78,253.3 295.89,252.3 296.00,244.4 296.10,260.3 296.21,261.3 296.31,246.5 296.42,251.7 296.53,256.7 296.63,245.2 296.74,259.0 296.84,252.4 296.95,259.9 297.06,248.1 297.16,244.6 297.27,253.5 297.37,250.3 297.48,243.3 297.59,254.2 297.69,260.1 297.80,257.5 297.91,252.4 298.01,267.8 298.12,262.5 298.22,261.6 298.33,248.6 298.44,260.8 298.54,261.3 298.65,246.1 298.75,269.9 298.86,258.4 298.97,252.5 299.07,264.5 299.18,246.7 299.28,259.5 299.39,255.4 299.50,254.7 299.60,258.5 299.71,256.7 299.81,251.6 299.92,251.0 300.03,257.4 300.13,239.2 300.24,256.9 300.34,240.8 300.45,268.4 300.56,245.7 300.66,249.4 300.77,252.8 300.88,239.6 300.98,247.7 301.09,240.0 301.19,250.8 301.30,263.0 301.41,252.1 301.51,255.4 301.62,255.2 301.72,258.5 301.83,247.1 301.94,251.4 302.04,243.2 302.15,262.0 302.25,258.5 302.36,260.5 302.47,258.3 302.57,247.3 302.68,239.4 302.78,251.6 302.89,252.5 303.00,268.5 303.10,261.8 303.21,256.2 303.32,244.5 303.42,252.9 303.53,244.5 303.63,257.9 303.74,249.6 303.85,254.3 303.95,255.6 304.06,241.6 304.16,258.0 304.27,252.6 304.38,264.2 304.48,265.3 304.59,267.9 304.69,256.9 304.80,250.2 304.91,249.7 305.01,252.9 305.12,269.1 305.22,245.5 305.33,262.6 305.44,269.6 305.54,262.3 305.65,246.2 305.75,256.9 305.86,256.3 305.97,264.9 306.07,243.9 306.18,268.4 306.29,243.1 306.39,246.1 306.50,262.0 306.60,253.8 306.71,252.7 306.82,256.5 306.92,250.3 307.03,251.7 307.13,245.2 307.24,251.4 307.35,238.9 307.45,243.0 307.56,258.7 307.66,245.6 307.77,265.0 307.88,257.3 307.98,232.7 308.09,258.4 308.19,263.7 308.30,262.5 308.41,258.6 308.51,269.0 308.62,251.0 308.73,255.5 308.83,252.2 308.94,258.3 309.04,255.6 309.15,257.7 309.26,260.9 309.36,255.8 309.47,248.8 309.57,263.6 309.68,250.8 309.79,250.3 309.89,264.5 310.00,254.0 310.10,262.9 310.21,267.5 310.32,255.7 310.42,249.3 310.53,247.3 310.63,254.9 310.74,260.1 310.85,251.3 310.95,262.6 311.06,248.2 311.16,256.7 311.27,244.4 311.38,253.2 311.48,241.6 311.59,247.9 311.70,266.8 311.80,240.2 311.91,263.1 312.01,246.9 312.12,255.4 312.23,248.2 312.33,250.7 312.44,240.6 312.54,245.2 312.65,263.2 312.76,256.0 312.86,240.8 312.97,248.6 313.07,244.4 313.18,267.3 313.29,238.9 313.39,248.8 313.50,268.5 313.60,238.5 313.71,265.2 313.82,262.1 313.92,253.4 314.03,245.7 314.14,265.3 314.24,251.5 314.35,253.8 314.45,254.7 314.56,267.6 314.67,261.7 314.77,241.1 314.88,256.4 314.98,235.8 315.09,252.9 315.20,255.0 315.30,251.2 315.41,262.7 315.51,255.7 315.62,257.4 315.73,262.7 315.83,254.0 315.94,256.3 316.04,264.4 316.15,253.9 316.26,248.1 316.36,252.8 316.47,248.8 316.57,258.2 316.68,259.2 316.79,247.9 316.89,229.2 317.00,269.5 317.11,262.6 317.21,257.0 317.32,262.5 317.42,261.8 317.53,253.0 317.64,262.6 317.74,260.3 317.85,248.6 317.95,264.6 318.06,267.2 318.17,257.2 318.27,261.7 318.38,264.2 318.48,249.5 318.59,253.4 318.70,262.8 318.80,253.7 318.91,262.7 319.01,244.0 319.12,268.5 319.23,269.0 319.33,248.8 319.44,260.0 319.55,253.8 319.65,256.8 319.76,249.8 319.86,248.3 319.97,250.6 320.08,261.4 320.18,248.0 320.29,251.1 320.39,269.1 320.50,270.0 320.61,261.9 320.71,257.3 320.82,255.7 320.92,247.3 321.03,266.5 321.14,254.7 321.24,256.5 321.35,245.2 321.45,263.4 321.56,244.0 321.67,252.7 321.77,244.9 321.88,256.5 321.98,254.2 322.09,248.9 322.20,257.5 322.30,248.3 322.41,260.4 322.52,252.8 322.62,255.6 322.73,269.5 322.83,269.7 322.94,262.7 323.05,259.7 323.15,254.5 323.26,269.1 323.36,258.2 323.47,242.6 323.58,255.7 323.68,241.8 323.79,253.9 323.89,258.4 324.00,257.2 324.11,257.7 324.21,248.5 324.32,244.1 324.42,256.1 324.53,270.2 324.64,260.4 324.74,250.1 324.85,265.4 324.95,263.4 325.06,260.3 325.17,254.1 325.27,258.9 325.38,261.0 325.49,248.1 325.59,269.2 325.70,267.4 325.80,251.5 325.91,256.6 326.02,250.0 326.12,253.4 326.23,255.8 326.33,268.5 326.44,269.2 326.55,253.2 326.65,259.5 326.76,259.0 326.86,268.3 326.97,247.7 327.08,255.4 327.18,253.2 327.29,249.1 327.39,251.6 327.50,264.2 327.61,265.3 327.71,261.0 327.82,246.0 327.93,259.3 328.03,253.6 328.14,269.3 328.24,262.0 328.35,257.8 328.46,258.9 328.56,248.3 328.67,247.4 328.77,258.4 328.88,245.2 328.99,257.0 329.09,259.1 329.20,262.0 329.30,260.3 329.41,256.0 329.52,264.7 329.62,269.5 329.73,251.8 329.83,260.6 329.94,251.2 330.05,247.5 330.15,262.7 330.26,252.4 330.36,243.4 330.47,245.7 330.58,251.5 330.68,252.5 330.79,254.0 330.90,253.5 331.00,246.0 331.11,269.8 331.21,257.3 331.32,245.9 331.43,268.0 331.53,244.7 331.64,248.0 331.74,256.0 331.85,253.7 331.96,253.8 332.06,245.9 332.17,244.9 332.27,253.0 332.38,270.3 332.49,269.6 332.59,265.9 332.70,246.5 332.80,260.0 332.91,243.9 333.02,256.0 333.12,254.7 333.23,269.5 333.34,257.0 333.44,252.8 333.55,269.2 333.65,249.3 333.76,259.7 333.87,239.5 333.97,252.3 334.08,233.1 334.18,242.8 334.29,247.1 334.40,267.8 334.50,265.4 334.61,252.5 334.71,245.8 334.82,254.9 334.93,254.0 335.03,258.9 335.14,263.7 335.24,259.0 335.35,252.1 335.46,267.3 335.56,259.9 335.67,261.2 335.77,265.4 335.88,247.7 335.99,257.4 336.09,267.8 336.20,258.6 336.31,242.8 336.41,238.7 336.52,263.2 336.62,253.2 336.73,269.5 336.84,257.9 336.94,254.9 337.05,240.3 337.15,242.8 337.26,268.8 337.37,247.8 337.47,260.0 337.58,261.1 337.68,254.4 337.79,244.7 337.90,252.1 338.00,254.4 338.11,253.5 338.21,256.8 338.32,257.9 338.43,251.7 338.53,252.4 338.64,254.0 338.75,269.0 338.85,263.4 338.96,264.5 339.06,262.6 339.17,257.0 339.28,254.5 339.38,265.3 339.49,256.6 339.59,241.5 339.70,255.7 339.81,267.2 339.91,247.3 340.02,247.5 340.12,269.8 340.23,260.2 340.34,251.6 340.44,262.0 340.55,245.1 340.65,254.5 340.76,261.3 340.87,253.5 340.97,259.3 341.08,269.2 341.18,269.6 341.29,254.3 341.40,253.5 341.50,269.0 341.61,264.8 341.72,251.2 341.82,248.0 341.93,259.6 342.03,259.8 342.14,257.9 342.25,248.5 342.35,256.2 342.46,269.0 342.56,254.2 342.67,266.8 342.78,268.9 342.88,254.0 342.99,268.1 343.09,252.4 343.20,243.7 343.31,248.9 343.41,257.8 343.52,251.1 343.62,268.1 343.73,268.4 343.84,261.8 343.94,241.8 344.05,269.4 344.16,268.0 344.26,255.6 344.37,253.1 344.47,249.2 344.58,259.1 344.69,238.9 344.79,248.4 344.90,251.1 345.00,268.9 345.11,259.2 345.22,256.8 345.32,253.0 345.43,261.8 345.53,254.2 345.64,262.0 345.75,264.7 345.85,261.7 345.96,259.5 346.06,268.0 346.17,264.7 346.28,243.9 346.38,246.0 346.49,268.2 346.59,263.6 346.70,251.3 346.81,259.9 346.91,259.6 347.02,267.7 347.13,260.9 347.23,256.0 347.34,270.0 347.44,238.9 347.55,259.4 347.66,242.6 347.76,251.1 347.87,251.5 347.97,241.5 348.08,269.2 348.19,257.9 348.29,255.0 348.40,248.2 348.50,260.2 348.61,253.7 348.72,258.9 348.82,257.4 348.93,261.0 349.03,256.2 349.14,256.8 349.25,270.2 349.35,256.0 349.46,243.6 349.57,256.1 349.67,262.6 349.78,249.9 349.88,264.9 349.99,250.3 350.10,246.5 350.20,251.1 350.31,264.5 350.41,252.5 350.52,269.9 350.63,243.3 350.73,260.9 350.84,261.9 350.94,252.8 351.05,255.5 351.16,248.1 351.26,253.4 351.37,261.0 351.47,259.5 351.58,268.2 351.69,257.8 351.79,247.6 351.90,256.8 352.00,240.1 352.11,241.5 352.22,245.8 352.32,244.8 352.43,266.0 352.54,270.2 352.64,269.9 352.75,240.8 352.85,266.0 352.96,256.4 353.07,265.3 353.17,262.9 353.28,266.8 353.38,246.6 353.49,269.5 353.60,262.1 353.70,268.1 353.81,252.1 353.91,255.5 354.02,266.5 354.13,262.1 354.23,255.7 354.34,261.0 354.44,268.9 354.55,239.1 354.66,260.8 354.76,264.0 354.87,268.2 354.98,252.0 355.08,263.8 355.19,261.8 355.29,255.5 355.40,262.5 355.51,269.0 355.61,264.3 355.72,257.9 355.82,262.9 355.93,262.4 356.04,243.3 356.14,258.7 356.25,266.3 356.35,248.7 356.46,242.0 356.57,246.6 356.67,265.5 356.78,258.8 356.88,259.6 356.99,267.6 357.10,249.7 357.20,264.3 357.31,247.6 357.41,266.6 357.52,260.2 357.63,266.1 357.73,256.3 357.84,254.0 357.95,254.5 358.05,252.2 358.16,254.5 358.26,254.6 358.37,242.9 358.48,244.6 358.58,253.7 358.69,250.3 358.79,250.5 358.90,262.8 359.01,260.7 359.11,262.1 359.22,250.6 359.32,259.7 359.43,262.0 359.54,268.0 359.64,258.6 359.75,257.3 359.85,258.4 359.96,262.1 360.07,252.4 360.17,260.8 360.28,261.7 360.39,261.6 360.49,250.8 360.60,252.1 360.70,256.5 360.81,247.5 360.92,251.8 361.02,235.8 361.13,261.2 361.23,263.4 361.34,256.3 361.45,251.5 361.55,244.2 361.66,269.7 361.76,236.6 361.87,264.4 361.98,255.7 362.08,256.0 362.19,268.6 362.29,253.2 362.40,269.2 362.51,255.0 362.61,270.1 362.72,268.9 362.82,256.6 362.93,259.8 363.04,256.0 363.14,263.4 363.25,259.6 363.36,259.6 363.46,256.6 363.57,254.5 363.67,265.9 363.78,256.4 363.89,260.8 363.99,255.2 364.10,257.0 364.20,262.5 364.31,270.2 364.42,258.4 364.52,255.5 364.63,253.5 364.73,269.1 364.84,261.9 364.95,260.4 365.05,259.8 365.16,270.2 365.26,264.4 365.37,257.9 365.48,261.3 365.58,261.2 365.69,251.8 365.80,259.1 365.90,250.5 366.01,269.5 366.11,265.1 366.22,266.1 366.33,253.8 366.43,268.3 366.54,268.8 366.64,257.6 366.75,260.8 366.86,254.4 366.96,247.8 367.07,249.2 367.17,268.9 367.28,261.8 367.39,261.9 367.49,256.9 367.60,258.3 367.70,258.7 367.81,256.6 367.92,247.1 368.02,261.2 368.13,252.8 368.23,269.5 368.34,251.9 368.45,263.6 368.55,266.2 368.66,251.3 368.77,266.8 368.87,262.9 368.98,268.0 369.08,237.7 369.19,249.8 369.30,257.2 369.40,241.3 369.51,258.2 369.61,248.3 369.72,256.5 369.83,256.0 369.93,241.3 370.04,262.0 370.14,252.8 370.25,252.2 370.36,251.1 370.46,262.8 370.57,253.6 370.67,258.4 370.78,251.9 370.89,254.0 370.99,252.7 371.10,245.8 371.21,256.3 371.31,259.0 371.42,252.8 371.52,257.9 371.63,243.6 371.74,255.0 371.84,255.2 371.95,269.4 372.05,262.1 372.16,252.8 372.27,257.7 372.37,267.0 372.48,255.5 372.58,259.7 372.69,261.7 372.80,253.2 372.90,268.9 373.01,257.5 373.11,268.5 373.22,256.4 373.33,260.8 373.43,257.8 373.54,256.2 373.64,259.5 373.75,253.7 373.86,269.0 373.96,255.2 374.07,261.3 374.18,269.1 374.28,259.7 374.39,265.3 374.49,248.1 374.60,251.8 374.71,269.3 374.81,255.4 374.92,254.9 375.02,253.9 375.13,260.4 375.24,264.5 375.34,259.3 375.45,269.2 375.55,263.8 375.66,249.0 375.77,266.9 375.87,240.1 375.98,249.9 376.08,262.9 376.19,256.6 376.30,254.3 376.40,261.8 376.51,263.8 376.62,246.7 376.72,260.0 376.83,264.2 376.93,270.0 377.04,269.3 377.15,262.0 377.25,264.3 377.36,251.4 377.46,254.3 377.57,269.4 377.68,250.8 377.78,255.7 377.89,243.1 377.99,261.4 378.10,270.2 378.21,258.5 378.31,269.0 378.42,245.1 378.52,247.1 378.63,249.7 378.74,252.2 378.84,258.1 378.95,262.6 379.05,251.9 379.16,254.9 379.27,260.8 379.37,263.8 379.48,267.6 379.59,255.7 379.69,262.9 379.80,255.8 379.90,256.2 380.01,254.9 380.12,260.3 380.22,252.9 380.33,258.6 380.43,244.4 380.54,268.8 380.65,262.6 380.75,243.9 380.86,241.7 380.96,261.8 381.07,266.2 381.18,259.0 381.28,267.0 381.39,263.0 381.49,270.2 381.60,247.1 381.71,241.7 381.81,250.3 381.92,256.9 382.03,257.3 382.13,249.0 382.24,258.8 382.34,266.9 382.45,257.3 382.56,248.4 382.66,253.9 382.77,251.2 382.87,256.2 382.98,244.3 383.09,255.7 383.19,253.7 383.30,256.4 383.40,246.9 383.51,246.9 383.62,238.0 383.72,260.6 383.83,265.9 383.93,239.9 384.04,252.6 384.15,246.6 384.25,258.5 384.36,255.7 384.46,269.5 384.57,266.5 384.68,269.8 384.78,260.2 384.89,246.3 385.00,265.9 385.10,250.3 385.21,261.7 385.31,256.3 385.42,236.2 385.53,247.1 385.63,256.5 385.74,269.9 385.84,264.5 385.95,260.6 386.06,256.6 386.16,249.2 386.27,249.1 386.37,269.3 386.48,259.6 386.59,258.4 386.69,269.1 386.80,254.2 386.90,257.2 387.01,256.6 387.12,251.8 387.22,255.3 387.33,260.2 387.43,248.1 387.54,249.8 387.65,269.5 387.75,253.4 387.86,256.5 387.97,258.5 388.07,249.4 388.18,251.0 388.28,254.5 388.39,259.2 388.50,270.3 388.60,262.2 388.71,259.9 388.81,254.5 388.92,249.8 389.03,256.4 389.13,251.0 389.24,269.8 389.34,266.4 389.45,253.5 389.56,263.6 389.66,263.6 389.77,244.5 389.87,248.3 389.98,255.2 390.09,269.9 390.19,244.4 390.30,269.4 390.41,248.4 390.51,250.7 390.62,254.7 390.72,252.3 390.83,269.0 390.94,254.5 391.04,251.2 391.15,268.2 391.25,269.9 391.36,244.4 391.47,250.0 391.57,250.5 391.68,250.3 391.78,246.6 391.89,254.6 392.00,257.1 392.10,268.7 392.21,263.7 392.31,258.4 392.42,249.6 392.53,251.5 392.63,259.0 392.74,242.9 392.84,267.6 392.95,250.7 393.06,266.7 393.16,254.1 393.27,251.8 393.38,246.0 393.48,251.9 393.59,247.5 393.69,258.7 393.80,248.3 393.91,245.9 394.01,266.7 394.12,261.3 394.22,269.2 394.33,264.6 394.44,261.8 394.54,250.2 394.65,244.2 394.75,262.1 394.86,254.4 394.97,236.9 395.07,246.1 395.18,257.3 395.28,263.7 395.39,255.9 395.50,253.3 395.60,248.9 395.71,248.6 395.82,253.0 395.92,246.0 396.03,262.9 396.13,264.4 396.24,252.8 396.35,253.3 396.45,269.6 396.56,253.7 396.66,263.4 396.77,247.6 396.88,262.7 396.98,252.4 397.09,266.6 397.19,262.6 397.30,259.4 397.41,250.4 397.51,262.3 397.62,246.7 397.72,259.0 397.83,242.1 397.94,257.3 398.04,249.3 398.15,250.5 398.25,264.9 398.36,257.1 398.47,253.4 398.57,261.3 398.68,242.2 398.79,250.9 398.89,252.6 399.00,257.5 399.10,261.7 399.21,248.9 399.32,254.0 399.42,237.4 399.53,249.4 399.63,245.5 399.74,254.0 399.85,260.7 399.95,266.9 400.06,247.1 400.16,248.9 400.27,239.8 400.38,244.8 400.48,251.1 400.59,258.9 400.69,242.4 400.80,239.6 400.91,254.9 401.01,253.7 401.12,241.5 401.23,266.8 401.33,260.0 401.44,247.7 401.54,238.6 401.65,244.3 401.76,245.8 401.86,269.4 401.97,248.4 402.07,244.9 402.18,269.5 402.29,257.1 402.39,264.5 402.50,244.9 402.60,252.5 402.71,261.0 402.82,245.5 402.92,255.6 403.03,259.7 403.13,244.0 403.24,269.9 403.35,240.6 403.45,263.9 403.56,245.9 403.66,249.7 403.77,245.7 403.88,255.8 403.98,262.1 404.09,270.1 404.20,261.7 404.30,257.5 404.41,252.5 404.51,244.9 404.62,250.4 404.73,248.2 404.83,244.2 404.94,247.7 405.04,260.7 405.15,258.0 405.26,250.0 405.36,243.3 405.47,248.1 405.57,270.1 405.68,259.5 405.79,252.0 405.89,235.2 406.00,252.3 406.10,255.7 406.21,245.8 406.32,247.4 406.42,255.5 406.53,248.9 406.64,256.2 406.74,260.8 406.85,263.5 406.95,255.1 407.06,254.3 407.17,268.3 407.27,255.6 407.38,254.5 407.48,247.3 407.59,260.8 407.70,254.0 407.80,250.6 407.91,246.9 408.01,260.0 408.12,243.7 408.23,264.9 408.33,263.2 408.44,259.1 408.54,259.5 408.65,257.8 408.76,258.9 408.86,248.6 408.97,245.1 409.07,260.8 409.18,258.9 409.29,254.7 409.39,234.2 409.50,246.1 409.61,261.4 409.71,257.3 409.82,259.5 409.92,256.7 410.03,257.8 410.14,265.1 410.24,263.2 410.35,269.4 410.45,254.4 410.56,257.9 410.67,266.1 410.77,261.8 410.88,265.6 410.98,235.9 411.09,261.7 411.20,254.6 411.30,262.8 411.41,255.0 411.51,265.9 411.62,249.0 411.73,247.7 411.83,258.9 411.94,260.0 412.05,269.8 412.15,252.1 412.26,256.0 412.36,262.4 412.47,251.3 412.58,269.5 412.68,258.8 412.79,251.7 412.89,263.6 413.00,253.0 413.11,258.5 413.21,245.7 413.32,250.7 413.42,244.4 413.53,258.2 413.64,261.6 413.74,249.8 413.85,254.2 413.95,255.6 414.06,257.3 414.17,234.2 414.27,245.8 414.38,246.5 414.48,261.4 414.59,240.1 414.70,235.4 414.80,251.9 414.91,268.2 415.02,264.4 415.12,258.9 415.23,255.1 415.33,250.6 415.44,264.7 415.55,270.3 415.65,259.0 415.76,258.2 415.86,260.1 415.97,261.2 416.08,262.6 416.18,269.1 416.29,264.6 416.39,269.1 416.50,269.8 416.61,270.1 416.71,266.1 416.82,264.2 416.92,267.4 417.03,247.7 417.14,261.2 417.24,268.8 417.35,268.6 417.46,269.7 417.56,254.3 417.67,264.9 417.77,260.1 417.88,260.2 417.99,256.4 418.09,257.3 418.20,268.2 418.30,261.5 418.41,270.2 418.52,256.3 418.62,254.9 418.73,266.6 418.83,269.6 418.94,246.3 419.05,243.7 419.15,257.7 419.26,248.3 419.36,258.7 419.47,262.5 419.58,263.5 419.68,253.7 419.79,266.5 419.89,264.0 420.00,261.5 420.11,260.4 420.21,266.1 420.32,270.0 420.43,256.9 420.53,263.1 420.64,259.5 420.74,264.5 420.85,256.6 420.96,252.6 421.06,243.5 421.17,255.2 421.27,251.7 421.38,264.6 421.49,268.1 421.59,242.2 421.70,262.1 421.80,251.6 421.91,250.8 422.02,270.2 422.12,251.0 422.23,257.4 422.33,254.8 422.44,266.8 422.55,252.9 422.65,270.3 422.76,258.6 422.87,269.3 422.97,253.6 423.08,250.1 423.18,258.9 423.29,254.5 423.40,259.9 423.50,250.4 423.61,236.5 423.71,264.2 423.82,267.0 423.93,257.6 424.03,262.1 424.14,270.3 424.24,267.3 424.35,269.3 424.46,256.8 424.56,252.5 424.67,259.4 424.77,267.3 424.88,259.2 424.99,246.6 425.09,257.5 425.20,258.4 425.30,247.9 425.41,269.0 425.52,267.2 425.62,257.1 425.73,259.2 425.84,254.8 425.94,264.3 426.05,253.4 426.15,248.0 426.26,247.8 426.37,245.4 426.47,259.7 426.58,265.2 426.68,270.2 426.79,263.8 426.90,259.0 427.00,268.7 427.11,269.5 427.21,260.6 427.32,262.9 427.43,258.6 427.53,245.8 427.64,256.5 427.74,265.5 427.85,262.0 427.96,256.3 428.06,251.1 428.17,269.9 428.28,258.2 428.38,248.6 428.49,267.0 428.59,252.3 428.70,248.0 428.81,249.8 428.91,248.5 429.02,249.8 429.12,268.9 429.23,251.5 429.34,252.9 429.44,259.9 429.55,262.3 429.65,260.6 429.76,259.8 429.87,265.4 429.97,251.7 430.08,256.5 430.18,251.4 430.29,264.9 430.40,264.3 430.50,262.5 430.61,259.9 430.71,266.3 430.82,265.3 430.93,256.3 431.03,256.1 431.14,256.1 431.25,256.4 431.35,263.1 431.46,266.1 431.56,254.6 431.67,251.0 431.78,266.0 431.88,269.1 431.99,252.9 432.09,255.0 432.20,257.7 432.31,254.2 432.41,269.2 432.52,253.3 432.62,259.0 432.73,263.4 432.84,238.9 432.94,270.2 433.05,253.2 433.15,265.1 433.26,257.9 433.37,253.1 433.47,249.7 433.58,268.0 433.69,253.6 433.79,264.0 433.90,264.8 434.00,269.6 434.11,270.0 434.22,266.2 434.32,270.2 434.43,268.3 434.53,257.8 434.64,268.2 434.75,256.6 434.85,256.5 434.96,266.1 435.06,247.1 435.17,269.9 435.28,256.2 435.38,256.2 435.49,250.6 435.59,248.2 435.70,261.9 435.81,255.6 435.91,249.3 436.02,245.9 436.12,248.0 436.23,266.9 436.34,256.8 436.44,268.2 436.55,257.3 436.66,253.2 436.76,262.4 436.87,256.3 436.97,249.2 437.08,243.5 437.19,251.8 437.29,249.3 437.40,260.8 437.50,252.1 437.61,262.1 437.72,270.0 437.82,253.5 437.93,263.4 438.03,257.1 438.14,251.7 438.25,243.4 438.35,254.8 438.46,244.1 438.56,247.9 438.67,250.5 438.78,250.1 438.88,258.9 438.99,257.1 439.10,263.0 439.20,263.7 439.31,242.7 439.41,256.3 439.52,265.6 439.63,261.7 439.73,247.1 439.84,264.9 439.94,265.5 440.05,263.7 440.16,263.7 440.26,260.1 440.37,241.9 440.47,245.4 440.58,258.3 440.69,269.0 440.79,249.9 440.90,245.9 441.00,258.0 441.11,247.7 441.22,248.9 441.32,251.4 441.43,247.1 441.53,269.5 441.64,259.1 441.75,260.9 441.85,250.3 441.96,254.6 442.07,250.1 442.17,254.7 442.28,247.1 442.38,236.5 442.49,254.8 442.60,269.2 442.70,269.6 442.81,263.6 442.91,265.8 443.02,266.1 443.13,258.0 443.23,269.1 443.34,254.9 443.44,260.3 443.55,261.5 443.66,260.2 443.76,258.5 443.87,257.7 443.97,236.2 444.08,255.4 444.19,256.9 444.29,260.9 444.40,244.2 444.51,265.2 444.61,267.4 444.72,247.8 444.82,249.3 444.93,257.7 445.04,257.4 445.14,256.2 445.25,253.6 445.35,249.9 445.46,248.3 445.57,266.6 445.67,258.1 445.78,269.3 445.88,265.7 445.99,254.4 446.10,255.5 446.20,269.1 446.31,237.9 446.41,266.2 446.52,267.4 446.63,260.6 446.73,255.0 446.84,269.2 446.94,264.9 447.05,265.0 447.16,263.0 447.26,257.1 447.37,253.5 447.48,254.7 447.58,235.9 447.69,256.5 447.79,268.9 447.90,252.0 448.01,270.2 448.11,264.7 448.22,253.4 448.32,261.9 448.43,250.8 448.54,256.2 448.64,268.9 448.75,267.4 448.85,261.0 448.96,256.7 449.07,261.6 449.17,251.4 449.28,265.7 449.38,249.2 449.49,269.0 449.60,247.2 449.70,255.8 449.81,241.8 449.91,254.6 450.02,260.6 450.13,244.9 450.23,248.7 450.34,248.4 450.45,248.5 450.55,253.6 450.66,256.8 450.76,248.3 450.87,258.7 450.98,256.0 451.08,265.0 451.19,253.3 451.29,251.5 451.40,252.3 451.51,264.6 451.61,269.0 451.72,261.4 451.82,242.0 451.93,251.5 452.04,257.8 452.14,263.1 452.25,265.4 452.35,242.9 452.46,248.3 452.57,264.8 452.67,238.5 452.78,269.0 452.89,255.4 452.99,263.4 453.10,250.2 453.20,255.4 453.31,257.1 453.42,261.2 453.52,254.3 453.63,239.9 453.73,258.8 453.84,259.2 453.95,244.6 454.05,243.6 454.16,243.5 454.26,259.5 454.37,256.7 454.48,240.5 454.58,260.9 454.69,254.3 454.79,254.1 454.90,245.2 455.01,265.2 455.11,263.6 455.22,246.4 455.32,266.1 455.43,269.2 455.54,264.3 455.64,246.3 455.75,248.2 455.86,268.9 455.96,235.5 456.07,241.5 456.17,255.8 456.28,265.4 456.39,244.9 456.49,226.3 456.60,253.1 456.70,263.1 456.81,256.2 456.92,270.0 457.02,238.1 457.13,258.3 457.23,251.6 457.34,254.6 457.45,251.9 457.55,258.7 457.66,254.7 457.76,252.8 457.87,269.3 457.98,248.5 458.08,244.8 458.19,250.6 458.30,266.0 458.40,261.5 458.51,250.2 458.61,249.5 458.72,260.3 458.83,261.8 458.93,246.8 459.04,248.3 459.14,261.4 459.25,244.9 459.36,249.2 459.46,244.2 459.57,253.1 459.67,268.9 459.78,262.1 459.89,244.9 459.99,251.7 460.10,250.5 460.20,248.8 460.31,261.9 460.42,266.5 460.52,238.9 460.63,261.8 460.73,250.9 460.84,265.1 460.95,253.2 461.05,261.7 461.16,267.8 461.27,258.8 461.37,260.3 461.48,267.0 461.58,259.0 461.69,257.3 461.80,250.0 461.90,268.8 462.01,247.3 462.11,264.3 462.22,269.9 462.33,261.7 462.43,255.7 462.54,244.9 462.64,256.8 462.75,257.4 462.86,257.4 462.96,256.4 463.07,264.2 463.17,260.8 463.28,270.1 463.39,252.2 463.49,259.2 463.60,257.8 463.71,247.1 463.81,242.4 463.92,242.3 464.02,251.6 464.13,267.0 464.24,262.2 464.34,247.8 464.45,254.5 464.55,261.2 464.66,255.8 464.77,238.1 464.87,245.3 464.98,251.4 465.08,255.5 465.19,258.3 465.30,249.2 465.40,246.3 465.51,266.3 465.61,261.5 465.72,264.3 465.83,268.5 465.93,259.6 466.04,266.5 466.14,252.7 466.25,250.7 466.36,269.7 466.46,262.2 466.57,250.1 466.68,263.5 466.78,260.2 466.89,260.1 466.99,254.2 467.10,258.0 467.21,269.3 467.31,251.3 467.42,265.9 467.52,269.3 467.63,251.5 467.74,257.0 467.84,251.5 467.95,263.0 468.05,255.9 468.16,252.7 468.27,251.7 468.37,222.7 468.48,243.2 468.58,248.7 468.69,258.0 468.80,254.9 468.90,256.1 469.01,261.2 469.12,268.7 469.22,248.8 469.33,253.9 469.43,259.1 469.54,253.9 469.65,259.9 469.75,265.3 469.86,257.9 469.96,250.8 470.07,265.2 470.18,246.4 470.28,248.3 470.39,253.5 470.49,256.6 470.60,261.7 470.71,268.2 470.81,256.8 470.92,253.4 471.02,254.0 471.13,266.8 471.24,267.5 471.34,265.6 471.45,270.0 471.55,254.7 471.66,268.8 471.77,269.7 471.87,247.8 471.98,248.9 472.09,252.1 472.19,269.3 472.30,268.9 472.40,262.3 472.51,251.5 472.62,265.2 472.72,268.9 472.83,251.7 472.93,259.6 473.04,267.5 473.15,264.6 473.25,264.5 473.36,263.6 473.46,254.8 473.57,252.1 473.68,254.6 473.78,262.1 473.89,246.8 473.99,249.8 474.10,259.4 474.21,260.5 474.31,269.3 474.42,253.9 474.53,257.3 474.63,258.3 474.74,268.8 474.84,260.0 474.95,249.0 475.06,235.3 475.16,262.2 475.27,269.6 475.37,261.6 475.48,248.4 475.59,253.4 475.69,269.1 475.80,247.1 475.90,239.4 476.01,244.8 476.12,269.1 476.22,264.6 476.33,255.5 476.43,261.2 476.54,260.9 476.65,249.3 476.75,244.5 476.86,246.5 476.96,256.6 477.07,224.7 477.18,255.2 477.28,257.8 477.39,251.9 477.50,250.9 477.60,251.9 477.71,257.2 477.81,255.2 477.92,265.8 478.03,252.1 478.13,252.1 478.24,254.7 478.34,261.0 478.45,251.5 478.56,265.1 478.66,267.1 478.77,255.0 478.87,270.1 478.98,262.9 479.09,239.6 479.19,261.0 479.30,247.4 479.40,265.9 479.51,261.7 479.62,260.1 479.72,268.5 479.83,252.2 479.94,253.4 480.04,264.4 480.15,265.0 480.25,252.6 480.36,258.5 480.47,241.5 480.57,237.0 480.68,266.3 480.78,265.8 480.89,262.3 481.00,257.0 481.10,250.1 481.21,257.0 481.31,229.1 481.42,257.3 481.53,240.2 481.63,238.7 481.74,255.1 481.84,256.9 481.95,250.9 482.06,243.0 482.16,255.6 482.27,250.9 482.37,254.4 482.48,254.2 482.59,253.0 482.69,250.2 482.80,269.1 482.91,252.9 483.01,248.3 483.12,259.9 483.22,250.9 483.33,248.7 483.44,259.1 483.54,250.7 483.65,254.2 483.75,251.2 483.86,258.6 483.97,257.1 484.07,270.1 484.18,246.2 484.28,269.4 484.39,253.3 484.50,259.4 484.60,263.4 484.71,255.5 484.81,247.5 484.92,256.3 485.03,257.5 485.13,262.6 485.24,245.8 485.35,251.8 485.45,257.7 485.56,260.7 485.66,243.3 485.77,270.1 485.88,262.2 485.98,248.2 486.09,251.7 486.19,254.7 486.30,251.5 486.41,254.0 486.51,240.4 486.62,269.1 486.72,254.4 486.83,267.3 486.94,249.1 487.04,258.0 487.15,252.9 487.25,263.3 487.36,255.2 487.47,259.4 487.57,257.6 487.68,264.5 487.78,268.8 487.89,263.4 488.00,266.7 488.10,259.2 488.21,254.4 488.32,270.3 488.42,253.6 488.53,256.2 488.63,260.0 488.74,266.1 488.85,257.5 488.95,258.8 489.06,265.2 489.16,266.8 489.27,260.2 489.38,256.0 489.48,249.8 489.59,269.4 489.69,261.1 489.80,264.3 489.91,264.2 490.01,251.0 490.12,256.7 490.22,248.8 490.33,243.6 490.44,251.2 490.54,239.3 490.65,260.6 490.76,269.1 490.86,260.0 490.97,260.9 491.07,238.1 491.18,244.1 491.29,256.2 491.39,269.9 491.50,252.1 491.60,258.6 491.71,263.1 491.82,252.3 491.92,247.4 492.03,252.8 492.13,255.3 492.24,232.8 492.35,244.0 492.45,257.3 492.56,269.7 492.66,259.9 492.77,244.9 492.88,257.0 492.98,269.8 493.09,242.7 493.19,268.9 493.30,257.9 493.41,264.2 493.51,264.5 493.62,265.4 493.73,251.0 493.83,255.0 493.94,270.3 494.04,269.1 494.15,268.9 494.26,253.3 494.36,256.1 494.47,253.7 494.57,263.5 494.68,253.2 494.79,257.9 494.89,263.0 495.00,265.6 495.10,254.6 495.21,269.3 495.32,252.8 495.42,235.7 495.53,261.2 495.63,262.8 495.74,259.8 495.85,259.3 495.95,263.1 496.06,265.0 496.17,245.3 496.27,269.0 496.38,256.4 496.48,255.0 496.59,257.4 496.70,250.5 496.80,259.9 496.91,255.8 497.01,270.0 497.12,259.5 497.23,246.3 497.33,269.5 497.44,266.9 497.54,252.3 497.65,266.6 497.76,243.6 497.86,262.3 497.97,258.4 498.07,257.1 498.18,253.7 498.29,249.8 498.39,251.3 498.50,254.4 498.60,267.0 498.71,260.9 498.82,267.2 498.92,265.7 499.03,269.2 499.14,266.4 499.24,268.5 499.35,243.6 499.45,251.5 499.56,255.8 499.67,256.1 499.77,269.7 499.88,259.3 499.98,242.2 500.09,259.5 500.20,251.4 500.30,251.6 500.41,243.2 500.51,251.7 500.62,244.9 500.73,247.3 500.83,255.4 500.94,260.0 501.04,244.9 501.15,251.5 501.26,246.8 501.36,257.4 501.47,256.7 501.58,255.7 501.68,223.4 501.79,256.9 501.89,256.5 502.00,265.3 502.11,261.1 502.21,250.5 502.32,267.6 502.42,259.8 502.53,253.1 502.64,242.9 502.74,255.9 502.85,265.1 502.95,265.5 503.06,270.2 503.17,254.7 503.27,264.6 503.38,254.5 503.48,260.3 503.59,252.3 503.70,256.6 503.80,253.9 503.91,264.9 504.01,265.8 504.12,259.0 504.23,238.4 504.33,265.1 504.44,252.7 504.55,245.7 504.65,253.3 504.76,252.6 504.86,246.8 504.97,256.1 505.08,242.4 505.18,264.3 505.29,252.8 505.39,255.6 505.50,262.4 505.61,265.0 505.71,251.7 505.82,262.3 505.92,252.2 506.03,250.5 506.14,247.6 506.24,251.4 506.35,254.8 506.45,258.8 506.56,257.0 506.67,259.2 506.77,256.0 506.88,265.0 506.98,252.6 507.09,250.2 507.20,269.5 507.30,248.5 507.41,246.5 507.52,257.7 507.62,252.9 507.73,269.1 507.83,241.1 507.94,257.6 508.05,237.2 508.15,250.5 508.26,257.4 508.36,250.0 508.47,245.8 508.58,254.0 508.68,252.3 508.79,261.7 508.89,256.4 509.00,262.5 509.11,269.2 509.21,257.8 509.32,258.5 509.42,269.1 509.53,259.6 509.64,265.0 509.74,250.1 509.85,264.4 509.96,253.8 510.06,262.4 510.17,249.0 510.27,261.1 510.38,253.9 510.49,250.8 510.59,264.1 510.70,253.8 510.80,250.4 510.91,264.9 511.02,238.6 511.12,238.2 511.23,252.3 511.33,249.8 511.44,264.8 511.55,244.7 511.65,243.8 511.76,255.4 511.86,239.1 511.97,265.9 512.08,268.7 512.18,267.8 512.29,260.8 512.39,253.9 512.50,260.0 512.61,262.4 512.71,255.9 512.82,257.2 512.93,252.5 513.03,256.6 513.14,239.5 513.24,255.0 513.35,261.3 513.46,259.7 513.56,254.6 513.67,242.4 513.77,269.6 513.88,266.5 513.99,256.2 514.09,251.7 514.20,257.4 514.30,237.4 514.41,269.2 514.52,261.8 514.62,245.0 514.73,262.4 514.83,246.3 514.94,253.5 515.05,246.7 515.15,257.2 515.26,253.1 515.37,257.4 515.47,249.1 515.58,268.0 515.68,250.0 515.79,250.4 515.90,253.1 516.00,242.7 516.11,250.4 516.21,250.1 516.32,260.9 516.43,263.0 516.53,236.8 516.64,266.2 516.74,255.9 516.85,258.2 516.96,251.0 517.06,261.8 517.17,263.1 517.27,251.6 517.38,265.0 517.49,256.1 517.59,267.2 517.70,252.9 517.80,263.0 517.91,254.3 518.02,235.9 518.12,264.3 518.23,244.7 518.34,241.5 518.44,258.0 518.55,247.9 518.65,255.8 518.76,265.0 518.87,262.6 518.97,238.3 519.08,240.6 519.18,236.4 519.29,250.6 519.40,258.7 519.50,268.2 519.61,245.2 519.71,247.2 519.82,251.1 519.93,245.2 520.03,255.4 520.14,257.7 520.24,255.4 520.35,250.4 520.46,251.1 520.56,259.2 520.67,251.6 520.78,263.3 520.88,248.9 520.99,250.5 521.09,243.7 521.20,254.7 521.31,254.7 521.41,264.0 521.52,244.9 521.62,258.4 521.73,258.9 521.84,255.8 521.94,248.9 522.05,240.4 522.15,255.1 522.26,246.3 522.37,253.8 522.47,249.5 522.58,247.5 522.68,253.0 522.79,240.7 522.90,247.8 523.00,239.5 523.11,241.0 523.21,252.8 523.32,262.9 523.43,261.7 523.53,267.9 523.64,245.3 523.75,227.1 523.85,267.4 523.96,254.9 524.06,256.9 524.17,265.0 524.28,248.9 524.38,256.9 524.49,241.4 524.59,254.6 524.70,263.0 524.81,258.7 524.91,249.9 525.02,234.7 525.12,249.7 525.23,265.0 525.34,241.0 525.44,247.8 525.55,253.6 525.65,257.8 525.76,255.7 525.87,262.1 525.97,259.4 526.08,251.1 526.19,262.9 526.29,253.5 526.40,238.0 526.50,257.4 526.61,252.2 526.72,259.9 526.82,245.1 526.93,270.0 527.03,257.5 527.14,251.6 527.25,269.8 527.35,255.8 527.46,239.9 527.56,242.0 527.67,266.6 527.78,260.4 527.88,249.3 527.99,259.4 528.09,258.9 528.20,253.3 528.31,251.2 528.41,261.4 528.52,252.2 528.62,269.9 528.73,244.7 528.84,252.0 528.94,252.1 529.05,259.0 529.16,250.9 529.26,265.6 529.37,256.8 529.47,259.5 529.58,252.0 529.69,258.1 529.79,255.6 529.90,247.0 530.00,259.6 530.11,249.9 530.22,255.5 530.32,245.1 530.43,254.8 530.53,257.8 530.64,239.7 530.75,244.7 530.85,245.3 530.96,267.7 531.06,249.6 531.17,247.6 531.28,249.2 531.38,252.1 531.49,253.2 531.60,259.6 531.70,262.6 531.81,253.7 531.91,247.2 532.02,256.5 532.13,266.8 532.23,248.3 532.34,250.6 532.44,259.0 532.55,251.5 532.66,242.8 532.76,269.7 532.87,250.5 532.97,234.6 533.08,248.4 533.19,256.7 533.29,252.7 533.40,245.1 533.50,262.5 533.61,234.8 533.72,246.2 533.82,250.8 533.93,245.3 534.03,252.5 534.14,258.0 534.25,262.3 534.35,240.1 534.46,256.1 534.57,253.6 534.67,264.9 534.78,254.4 534.88,241.9 534.99,257.2 535.10,256.0 535.20,258.5 535.31,259.5 535.41,264.8 535.52,249.1 535.63,245.9 535.73,253.3 535.84,251.5 535.94,249.8 536.05,241.8 536.16,257.4 536.26,242.7 536.37,237.4 536.47,248.0 536.58,238.9 536.69,251.8 536.79,241.7 536.90,253.2 537.01,246.8 537.11,266.2 537.22,245.6 537.32,269.2 537.43,260.7 537.54,252.1 537.64,260.1 537.75,258.9 537.85,257.6 537.96,249.8 538.07,257.3 538.17,258.4 538.28,266.9 538.38,269.8 538.49,248.1 538.60,236.4 538.70,247.6 538.81,263.4 538.91,261.3 539.02,256.2 539.13,252.4 539.23,246.6 539.34,241.9 539.44,248.9 539.55,262.3 539.66,261.5 539.76,253.2 539.87,248.4 539.98,253.0 540.08,255.4 540.19,249.7 540.29,259.4 540.40,253.1 540.51,249.2 540.61,260.1 540.72,246.2 540.82,248.1 540.93,257.3 541.04,260.8 541.14,253.5 541.25,259.6 541.35,257.3 541.46,253.2 541.57,266.9 541.67,259.8 541.78,250.2 541.88,262.3 541.99,257.8 542.10,257.3 542.20,248.3 542.31,243.1 542.42,249.3 542.52,265.6 542.63,240.2 542.73,265.4 542.84,256.4 542.95,266.0 543.05,264.9 543.16,236.7 543.26,249.1 543.37,255.3 543.48,257.8 543.58,242.6 543.69,265.6 543.79,253.0 543.90,264.1 544.01,240.7 544.11,248.4 544.22,263.6 544.32,238.7 544.43,250.0 544.54,241.9 544.64,256.4 544.75,249.8 544.85,261.5 544.96,256.9 545.07,243.8 545.17,257.1 545.28,258.4 545.39,259.7 545.49,241.4 545.60,254.9 545.70,264.3 545.81,249.4 545.92,247.5 546.02,249.6 546.13,245.6 546.23,266.9 546.34,252.1 546.45,243.7 546.55,244.3 546.66,268.8 546.76,247.7 546.87,267.5 546.98,252.5 547.08,266.7 547.19,234.8 547.29,250.7 547.40,245.6 547.51,258.1 547.61,253.7 547.72,239.2 547.83,255.9 547.93,259.2 548.04,251.4 548.14,265.5 548.25,265.7 548.36,266.1 548.46,248.2 548.57,251.4 548.67,257.2 548.78,242.7 548.89,247.7 548.99,247.9 549.10,245.0 549.20,250.1 549.31,244.9 549.42,253.5 549.52,249.7 549.63,261.9 549.73,237.7 549.84,241.2 549.95,251.7 550.05,266.7 550.16,248.8 550.26,251.2 550.37,255.5 550.48,246.1 550.58,263.4 550.69,247.9 550.80,262.8 550.90,251.8 551.01,269.5 551.11,254.7 551.22,253.9 551.33,264.2 551.43,236.9 551.54,261.9 551.64,246.0 551.75,245.4 551.86,247.7 551.96,250.7 552.07,262.1 552.17,254.3 552.28,254.9 552.39,253.4 552.49,247.0 552.60,256.6 552.70,257.2 552.81,257.8 552.92,265.5 553.02,254.0 553.13,247.6 553.24,260.9 553.34,255.4 553.45,233.3 553.55,252.6 553.66,240.0 553.77,264.5 553.87,262.9 553.98,270.0 554.08,258.6 554.19,255.7 554.30,246.0 554.40,248.0 554.51,265.0 554.61,260.5 554.72,251.9 554.83,250.1 554.93,254.6 555.04,267.3 555.14,258.3 555.25,246.1 555.36,255.8 555.46,258.2 555.57,250.2 555.67,264.3 555.78,244.0 555.89,252.6 555.99,251.4 556.10,268.8 556.21,253.1 556.31,249.9 556.42,265.3 556.52,249.1 556.63,269.3 556.74,269.4 556.84,242.6 556.95,257.2 557.05,253.9 557.16,251.9 557.27,262.1 557.37,249.6 557.48,253.9 557.58,246.3 557.69,249.0 557.80,266.8 557.90,263.1 558.01,259.4 558.11,260.2 558.22,257.5 558.33,259.7 558.43,263.5 558.54,244.8 558.65,259.1 558.75,263.1 558.86,242.4 558.96,253.0 559.07,234.3 559.18,266.2 559.28,268.4 559.39,253.2 559.49,261.5 559.60,252.2 559.71,243.5 559.81,251.4 559.92,255.4 560.02,258.2 560.13,269.1 560.24,250.0 560.34,249.6 560.45,253.5 560.55,257.8 560.66,268.5 560.77,243.2 560.87,260.9 560.98,244.5 561.08,249.7 561.19,267.8 561.30,269.7 561.40,256.4 561.51,252.7 561.62,262.0 561.72,255.4 561.83,254.0 561.93,252.9 562.04,253.9 562.15,261.3 562.25,250.9 562.36,234.8 562.46,239.5 562.57,249.6 562.68,240.4 562.78,256.8 562.89,256.1 562.99,252.4 563.10,239.9 563.21,256.2 563.31,241.3 563.42,264.6 563.52,253.2 563.63,264.8 563.74,241.5 563.84,250.0 563.95,261.2 564.06,242.3 564.16,235.9 564.27,256.2 564.37,241.6 564.48,253.7 564.59,254.1 564.69,264.3 564.80,255.5 564.90,261.7 565.01,265.7 565.12,259.8 565.22,258.2 565.33,251.1 565.43,265.2 565.54,247.6 565.65,269.4 565.75,232.5 565.86,259.1 565.96,260.2 566.07,269.7 566.18,246.0 566.28,269.5 566.39,257.9 566.49,257.8 566.60,233.1 566.71,248.2 566.81,263.6 566.92,247.3 567.03,257.5 567.13,262.6 567.24,264.4 567.34,248.9 567.45,257.8 567.56,254.8 567.66,248.3 567.77,266.0 567.87,267.2 567.98,258.5 568.09,261.6 568.19,256.3 568.30,251.4 568.40,270.0 568.51,249.2 568.62,265.8 568.72,250.3 568.83,269.7 568.93,255.2 569.04,268.8 569.15,253.3 569.25,252.8 569.36,251.0 569.46,267.7 569.57,247.8 569.68,258.3 569.78,262.7 569.89,244.6 570.00,258.5 570.10,256.2 570.21,261.3 570.31,245.1 570.42,266.2 570.53,255.1 570.63,269.8 570.74,250.6 570.84,244.8 570.95,253.8 571.06,241.7 571.16,250.0 571.27,253.4 571.37,253.0 571.48,249.2 571.59,263.5 571.69,241.3 571.80,245.8 571.90,265.2 572.01,258.3 572.12,255.2 572.22,244.6 572.33,257.2 572.44,264.0 572.54,250.9 572.65,270.1 572.75,263.1 572.86,254.5 572.97,254.1 573.07,267.0 573.18,248.8 573.28,243.6 573.39,259.1 573.50,251.7 573.60,247.4 573.71,235.7 573.81,251.2 573.92,256.7 574.03,249.3 574.13,266.8 574.24,254.2 574.34,258.5 574.45,245.1 574.56,248.3 574.66,243.3 574.77,257.0 574.87,257.9 574.98,252.5 575.09,264.1 575.19,245.5 575.30,244.8 575.41,243.4 575.51,262.8 575.62,270.0 575.72,254.3 575.83,261.1 575.94,262.5 576.04,260.4 576.15,259.6 576.25,243.7 576.36,252.5 576.47,255.5 576.57,252.9 576.68,262.7 576.78,255.9 576.89,237.3 577.00,268.4 577.10,254.7 577.21,251.0 577.31,252.8 577.42,228.2 577.53,258.7 577.63,249.2 577.74,265.6 577.85,252.0 577.95,243.9 578.06,240.7 578.16,254.2 578.27,252.8 578.38,247.4 578.48,254.3 578.59,250.1 578.69,263.8 578.80,251.1 578.91,245.2 579.01,248.6 579.12,244.9 579.22,268.6 579.33,264.0 579.44,260.7 579.54,248.0 579.65,260.0 579.75,256.6 579.86,256.1 579.97,261.8 580.07,254.8 580.18,260.8 580.28,253.3 580.39,263.2 580.50,250.6 580.60,261.3 580.71,263.4 580.82,246.5 580.92,247.5 581.03,263.8 581.13,250.6 581.24,222.9 581.35,257.4 581.45,268.4 581.56,259.0 581.66,250.1 581.77,257.6 581.88,267.7 581.98,259.0 582.09,265.6 582.19,259.5 582.30,253.2 582.41,246.6 582.51,259.4 582.62,261.0 582.72,269.7 582.83,263.9 582.94,240.5 583.04,250.4 583.15,264.4 583.26,256.0 583.36,252.2 583.47,254.3 583.57,266.5 583.68,240.1 583.79,258.9 583.89,245.4 584.00,260.2 584.10,253.4 584.21,240.2 584.32,259.0 584.42,256.0 584.53,257.8 584.63,262.0 584.74,265.5 584.85,257.8 584.95,256.6 585.06,264.5 585.16,249.3 585.27,232.4 585.38,256.3 585.48,246.7 585.59,255.2 585.69,258.0 585.80,257.1 585.91,252.4 586.01,262.1 586.12,246.5 586.23,253.7 586.33,237.3 586.44,244.9 586.54,259.8 586.65,241.3 586.76,250.3 586.86,262.4 586.97,259.3 587.07,269.8 587.18,259.8 587.29,256.8 587.39,259.7 587.50,263.2 587.60,266.1 587.71,256.8 587.82,254.1 587.92,258.4 588.03,249.7 588.13,248.2 588.24,261.6 588.35,248.1 588.45,257.4 588.56,248.6 588.67,254.5 588.77,266.0 588.88,267.3 588.98,260.4 589.09,268.0 589.20,247.1 589.30,248.9 589.41,266.6 589.51,238.8 589.62,267.3 589.73,257.2 589.83,229.6 589.94,261.7 590.04,262.4 590.15,254.3 590.26,252.6 590.36,254.8 590.47,265.8 590.57,261.8 590.68,249.1 590.79,244.9 590.89,251.4 591.00,249.8 591.10,269.5 591.21,256.8 591.32,241.0 591.42,244.7 591.53,264.3 591.64,258.5 591.74,256.4 591.85,265.9 591.95,247.0 592.06,232.4 592.17,257.3 592.27,251.2 592.38,269.2 592.48,238.2 592.59,259.8 592.70,265.8 592.80,246.5 592.91,266.8 593.01,269.9 593.12,248.1 593.23,246.8 593.33,251.3 593.44,260.3 593.54,257.5 593.65,261.1 593.76,249.9 593.86,244.8 593.97,260.8 594.08,263.2 594.18,260.5 594.29,255.5 594.39,247.7 594.50,251.6 594.61,260.6 594.71,253.6 594.82,258.1 594.92,246.5 595.03,259.6 595.14,256.2 595.24,253.0 595.35,255.7 595.45,256.3 595.56,249.4 595.67,263.5 595.77,261.5 595.88,249.1 595.98,241.3 596.09,257.0 596.20,257.5 596.30,261.3 596.41,269.0 596.51,251.5 596.62,255.5 596.73,269.5 596.83,259.4 596.94,267.0 597.05,261.4 597.15,247.9 597.26,255.4 597.36,259.1 597.47,248.2 597.58,247.7 597.68,256.5 597.79,252.2 597.89,237.2 598.00,255.0" fill="none" stroke="#5f9f68" stroke-width="0.4" stroke-opacity="0.6" stroke-linejoin="round"/>
<line x1="86.5" x2="86.5" y1="200" y2="253.5" stroke="#6f8f73" stroke-width="0.6" opacity="0.4"/>
<line x1="145.5" x2="145.5" y1="200" y2="253.5" stroke="#6f8f73" stroke-width="0.6" opacity="0.4"/>
<line x1="150.5" x2="150.5" y1="200" y2="253.5" stroke="#6f8f73" stroke-width="0.6" opacity="0.4"/>
<line x1="118.5" x2="118.5" y1="215" y2="253.5" stroke="#6f8f73" stroke-width="0.6" opacity="0.4"/>
<line x1="52.5" x2="52.5" y1="221" y2="253.5" stroke="#6f8f73" stroke-width="0.6" opacity="0.4"/>
<line x1="288.5" x2="288.5" y1="215" y2="253.5" stroke="#6f8f73" stroke-width="0.6" opacity="0.4"/>
<line x1="204.5" x2="204.5" y1="227" y2="253.5" stroke="#6f8f73" stroke-width="0.6" opacity="0.4"/>
<line x1="305.5" x2="305.5" y1="150" y2="253.5" stroke="#6f8f73" stroke-width="0.6" opacity="0.4"/>
<line x1="335.5" x2="335.5" y1="205" y2="253.5" stroke="#6f8f73" stroke-width="0.6" opacity="0.4"/>
<line x1="350.5" x2="350.5" y1="220" y2="253.5" stroke="#6f8f73" stroke-width="0.6" opacity="0.4"/>
<line x1="417.5" x2="417.5" y1="207" y2="253.5" stroke="#6f8f73" stroke-width="0.6" opacity="0.4"/>
<line x1="450.5" x2="450.5" y1="196" y2="253.5" stroke="#6f8f73" stroke-width="0.6" opacity="0.4"/>
<line x1="527.5" x2="527.5" y1="177" y2="253.5" stroke="#6f8f73" stroke-width="0.6" opacity="0.4"/>
<line x1="525.5" x2="525.5" y1="210" y2="253.5" stroke="#6f8f73" stroke-width="0.6" opacity="0.4"/>
<line x1="547.5" x2="547.5" y1="207" y2="253.5" stroke="#6f8f73" stroke-width="0.6" opacity="0.4"/>
<line x1="579.5" x2="579.5" y1="200" y2="253.5" stroke="#6f8f73" stroke-width="0.6" opacity="0.4"/>
<line x1="592.5" x2="592.5" y1="175" y2="253.5" stroke="#6f8f73" stroke-width="0.6" opacity="0.4"/>
<line x1="597.5" x2="597.5" y1="150" y2="253.5" stroke="#6f8f73" stroke-width="0.6" opacity="0.4"/>
<line x1="254.5" x2="254.5" y1="225" y2="253.5" stroke="#6f8f73" stroke-width="0.6" opacity="0.4"/>
<line x1="165.5" x2="165.5" y1="228" y2="253.5" stroke="#6f8f73" stroke-width="0.6" opacity="0.4"/>
<line x1="480.5" x2="480.5" y1="228" y2="253.5" stroke="#6f8f73" stroke-width="0.6" opacity="0.4"/>
<line x1="500.5" x2="500.5" y1="230" y2="253.5" stroke="#6f8f73" stroke-width="0.6" opacity="0.4"/>
<line x1="270.5" x2="270.5" y1="228" y2="253.5" stroke="#6f8f73" stroke-width="0.6" opacity="0.4"/>
<line x1="390.5" x2="390.5" y1="228" y2="253.5" stroke="#6f8f73" stroke-width="0.6" opacity="0.4"/>
<rect x="427.6" y="151" width="3.6" height="105.5" fill="#b9ddb9" opacity="0.55"/>
<line x1="427.9" x2="427.9" y1="151" y2="267.0" stroke="#5f9f68" stroke-width="0.8" opacity="0.85"/>
<line x1="430.9" x2="430.9" y1="151" y2="267.0" stroke="#5f9f68" stroke-width="0.8" opacity="0.85"/>
<line x1="46.5" x2="598.0" y1="273.9" y2="273.9" stroke="#555" stroke-width="1"/>
<line x1="46.5" x2="46.5" y1="151.0" y2="274.3" stroke="#2a2a2a" stroke-width="1"/>
<line x1="46.5" x2="52.0" y1="151.5" y2="151.5" stroke="#2a2a2a" stroke-width="1"/>
<text transform="translate(41.0 157.7) scale(0.71 1)" text-anchor="end" font-size="15.6">8</text>
<line x1="46.5" x2="52.0" y1="181.5" y2="181.5" stroke="#2a2a2a" stroke-width="1"/>
<text transform="translate(41.0 187.7) scale(0.71 1)" text-anchor="end" font-size="15.6">6</text>
<line x1="46.5" x2="52.0" y1="211.5" y2="211.5" stroke="#2a2a2a" stroke-width="1"/>
<text transform="translate(41.0 217.7) scale(0.71 1)" text-anchor="end" font-size="15.6">4</text>
<line x1="46.5" x2="52.0" y1="241.5" y2="241.5" stroke="#2a2a2a" stroke-width="1"/>
<text transform="translate(41.0 247.7) scale(0.71 1)" text-anchor="end" font-size="15.6">2</text>
<text transform="translate(40.9 276.9) scale(0.71 1)" text-anchor="end" font-size="15.6">0</text>
<rect x="86.5" y="151.5" width="208.0" height="18.80000000000001" fill="#fff" stroke="#c4c4c4" stroke-width="1"/>
<line x1="88.3" x2="97.5" y1="160.5" y2="160.5" stroke="#d5e3d6" stroke-width="0.9"/>
<text x="99.3" y="166.5" font-size="16" textLength="194.5" lengthAdjust="spacingAndGlyphs">After GC Bias Normalization</text>
<text x="58.6" y="166.1" font-size="20" font-weight="bold">B</text>
<path d="M46.8 375.0C47.2 376.3 48.1 382.8 49.2 383.0C50.4 383.2 52.3 378.2 53.8 376.2C55.2 374.3 56.8 374.2 58.0 371.2C59.2 368.3 60.3 361.0 61.2 358.8C62.2 356.5 62.7 357.2 63.8 358.0C64.8 358.8 66.3 362.2 67.5 363.8C68.7 365.2 69.5 366.8 70.8 367.0C72.0 367.2 73.5 365.5 75.0 365.0C76.5 364.5 78.5 364.9 80.0 363.8C81.5 362.6 83.0 358.4 84.2 358.0C85.5 357.6 86.5 360.3 87.5 361.2C88.5 362.2 88.5 364.2 90.0 363.8C91.5 363.3 94.6 359.2 96.2 358.8C97.9 358.3 98.5 361.1 100.0 361.2C101.5 361.4 102.9 359.3 105.0 359.5C107.1 359.7 110.1 362.8 112.5 362.5C114.9 362.2 117.0 357.5 119.5 358.0C122.0 358.5 125.3 365.1 127.5 365.5C129.7 365.9 130.8 361.0 132.5 360.5C134.2 360.0 135.4 362.7 137.5 362.5C139.6 362.3 142.9 359.8 145.0 359.5C147.1 359.2 147.7 360.7 150.0 360.5C152.3 360.3 155.9 357.8 158.8 358.1C161.6 358.4 164.7 361.3 167.1 362.3C169.5 363.2 170.9 364.1 173.3 363.9C175.8 363.8 178.9 361.6 181.7 361.4C184.4 361.3 187.2 363.1 190.0 363.1C192.8 363.1 195.6 361.6 198.3 361.4C201.1 361.3 204.2 362.6 206.7 362.3C209.1 361.9 210.8 359.6 212.9 359.4C215.0 359.1 217.1 359.8 219.2 360.6C221.3 361.4 223.5 363.2 225.4 364.4C227.4 365.5 229.0 367.8 230.8 367.3C232.7 366.8 234.8 363.1 236.7 361.4C238.5 359.8 240.3 357.7 242.1 357.3C243.9 356.9 245.8 359.1 247.5 358.9C249.2 358.7 250.8 356.2 252.5 356.0C254.2 355.9 256.2 358.0 257.9 358.1C259.7 358.2 261.2 357.4 262.9 356.9C264.7 356.3 266.6 354.6 268.3 354.8C270.1 355.0 271.5 357.0 273.3 358.1C275.2 359.2 277.5 360.3 279.6 361.4C281.7 362.6 283.8 364.8 285.8 365.2C287.9 365.6 290.0 363.9 292.1 363.9C294.2 364.0 296.3 365.7 298.3 365.6C300.4 365.5 302.5 363.7 304.6 363.1C306.7 362.5 308.8 363.4 310.8 362.3C312.9 361.2 315.3 357.8 317.1 356.4C318.8 355.0 319.7 353.8 321.2 353.9C322.8 354.1 325.1 355.9 326.7 357.3C328.3 358.7 329.3 361.6 330.8 362.3C332.4 363.0 334.3 361.1 335.8 361.4C337.4 361.8 338.3 363.7 340.0 364.4C341.7 365.0 344.2 365.9 346.2 365.6C348.3 365.3 350.4 362.5 352.5 362.3C354.6 362.0 356.7 364.1 358.8 363.9C360.8 363.8 362.9 361.6 365.0 361.4C367.1 361.3 369.5 363.1 371.2 363.1C373.0 363.1 374.0 361.8 375.4 361.4C376.9 361.1 377.3 360.5 380.0 360.8C382.7 361.1 388.4 363.3 391.7 363.3C395.0 363.3 397.5 360.3 400.0 360.8C402.5 361.3 404.2 366.1 406.7 366.2C409.2 366.3 412.6 361.4 415.0 361.3C417.4 361.2 419.3 365.5 420.8 365.3C422.3 365.1 423.2 363.7 424.0 360.0C424.8 356.3 425.2 352.5 425.8 343.3C426.4 334.1 426.9 314.4 427.5 305.0C428.1 295.6 428.9 286.7 429.5 286.7C430.1 286.7 430.7 295.0 431.3 305.0C431.9 315.0 432.6 337.2 433.3 346.7C434.1 356.1 435.0 358.9 435.8 361.7C436.6 364.5 437.5 363.7 438.3 363.3C439.1 362.9 439.4 360.0 440.8 359.2C442.2 358.4 444.9 358.2 446.7 358.3C448.5 358.4 449.8 359.2 451.7 360.0C453.6 360.8 456.4 363.3 458.3 363.3C460.2 363.3 460.5 360.8 463.3 360.0C466.1 359.2 471.0 358.8 475.0 358.8C479.0 358.7 484.2 359.1 487.5 359.5C490.8 359.9 492.9 362.0 495.0 361.2C497.1 360.5 498.2 354.6 500.0 355.0C501.8 355.4 503.3 362.2 506.0 363.8C508.7 365.3 513.2 365.1 516.0 364.5C518.8 363.9 519.8 360.1 522.5 360.0C525.2 359.9 529.6 363.8 532.5 363.8C535.4 363.8 537.8 359.8 540.0 360.0C542.2 360.2 544.2 365.1 546.0 365.0C547.8 364.9 549.1 359.1 551.0 359.5C552.9 359.9 555.3 367.3 557.5 367.5C559.7 367.7 561.9 362.0 564.0 360.5C566.1 359.0 568.6 359.9 570.0 358.8C571.4 357.6 571.5 354.4 572.5 353.8C573.5 353.1 574.8 355.0 576.0 355.0C577.2 355.0 578.7 353.3 580.0 353.8C581.3 354.2 583.0 355.2 584.0 357.5C585.0 359.8 585.0 364.8 586.0 367.5C587.0 370.2 588.5 372.7 590.0 373.8C591.5 374.8 593.7 374.2 595.0 373.8C596.3 373.3 597.5 371.5 598.0 371.0" fill="none" stroke="#9a9a9a" stroke-width="0.7"/>
<path d="M46.5 359.2H427.9V297.3H432.4V359.2H598.0" fill="none" stroke="#000" stroke-width="1.6" stroke-linejoin="miter"/>
<line x1="46.0" x2="598.5" y1="390.4" y2="390.4" stroke="#2a2a2a" stroke-width="1"/>
<line x1="46.5" x2="46.5" y1="287.0" y2="390.4" stroke="#2a2a2a" stroke-width="1"/>
<line x1="46.5" x2="52.0" y1="297.5" y2="297.5" stroke="#2a2a2a" stroke-width="1"/>
<text transform="translate(41.0 303.1) scale(0.71 1)" text-anchor="end" font-size="15.6">3</text>
<line x1="46.5" x2="52.0" y1="328.5" y2="328.5" stroke="#2a2a2a" stroke-width="1"/>
<text transform="translate(41.0 334.1) scale(0.71 1)" text-anchor="end" font-size="15.6">2</text>
<line x1="46.5" x2="52.0" y1="359.5" y2="359.5" stroke="#2a2a2a" stroke-width="1"/>
<text transform="translate(41.0 365.1) scale(0.71 1)" text-anchor="end" font-size="15.6">1</text>
<text transform="translate(41.0 396.0) scale(0.71 1)" text-anchor="end" font-size="15.6">0</text>
<line x1="142.5" x2="142.5" y1="390.4" y2="383.59999999999997" stroke="#2a2a2a" stroke-width="1"/>
<text transform="translate(142.1 404.8) scale(0.71 1)" text-anchor="middle" font-size="15.6">0.5</text>
<line x1="237.5" x2="237.5" y1="390.4" y2="383.59999999999997" stroke="#2a2a2a" stroke-width="1"/>
<text transform="translate(237.6 404.8) scale(0.71 1)" text-anchor="middle" font-size="15.6">1</text>
<line x1="333.5" x2="333.5" y1="390.4" y2="383.59999999999997" stroke="#2a2a2a" stroke-width="1"/>
<text transform="translate(333.1 404.8) scale(0.71 1)" text-anchor="middle" font-size="15.6">1.5</text>
<line x1="428.5" x2="428.5" y1="390.4" y2="383.59999999999997" stroke="#2a2a2a" stroke-width="1"/>
<text transform="translate(428.6 404.8) scale(0.71 1)" text-anchor="middle" font-size="15.6">2</text>
<line x1="524.5" x2="524.5" y1="390.4" y2="383.59999999999997" stroke="#2a2a2a" stroke-width="1"/>
<text transform="translate(524.1 404.8) scale(0.71 1)" text-anchor="middle" font-size="15.6">2.5</text>
<text transform="translate(562.8 419.6) scale(0.71 1)" font-size="15.6">x 10</text>
<text transform="translate(583.6 412.2) scale(0.8 1)" font-size="11.5">6</text>
<rect x="86.5" y="293.8" width="136.5" height="18.80000000000001" fill="#fff" stroke="#c4c4c4" stroke-width="1"/>
<line x1="88.3" x2="97.5" y1="303.0" y2="303.0" stroke="#a8a8a8" stroke-width="0.9"/>
<text x="99.3" y="308.9" font-size="16" textLength="119.5" lengthAdjust="spacingAndGlyphs">After Convolution</text>
<text x="59.0" y="310.0" font-size="20" font-weight="bold">C</text>
<text x="191.2" y="429.3" font-size="16" textLength="231" lengthAdjust="spacingAndGlyphs">Position on Chromosome 13 (Mb)</text>
<text transform="translate(12.0 315.5) rotate(-90)" font-size="15.4" textLength="212.2" lengthAdjust="spacingAndGlyphs">Normalized Depth of Coverage</text>
<polyline points="66.2,569.5 76.5,607.5 87.0,627.5 107.5,653.8 159.5,691.5 212.0,711.2 263.8,728.8 315.0,733.8 366.0,740.0 391.0,744.5 417.0,748.3 470.0,753.2 521.0,762.0 572.5,764.0" fill="none" stroke="#000" stroke-width="1.8" stroke-dasharray="2.8 2.0"/>
<polyline points="66.8,531.8 76.5,568.8 87.0,590.8 107.5,617.5 159.5,654.5 212.0,676.2 263.8,688.8 315.0,698.8 366.0,708.0 417.0,718.5 470.0,723.8 521.0,728.8 572.5,732.5" fill="none" stroke="#6abf4b" stroke-width="3.2" stroke-linejoin="round"/>
<polyline points="66.8,494.5 76.5,531.2 87.0,553.0 107.5,579.5 159.5,616.5 212.0,638.0 263.8,653.0 315.0,665.0 366.0,675.0 417.0,682.3 470.0,690.5 521.0,696.2 572.5,699.5" fill="none" stroke="#3a50a2" stroke-width="3.2" stroke-linejoin="round"/>
<path d="M159.7 838.8v-5.5M159.7 466.2v5.5M263.0 838.8v-5.5M263.0 466.2v5.5M366.4 838.8v-5.5M366.4 466.2v5.5M469.7 838.8v-5.5M469.7 466.2v5.5M56.3 801.4h2.8M573.1 801.4h-2.8M56.3 779.5h2.8M573.1 779.5h-2.8M56.3 764.0h2.8M573.1 764.0h-2.8M56.3 752.0h2.8M573.1 752.0h-2.8M56.3 742.2h2.8M573.1 742.2h-2.8M56.3 733.8h2.8M573.1 733.8h-2.8M56.3 726.6h2.8M573.1 726.6h-2.8M56.3 720.3h2.8M573.1 720.3h-2.8M56.3 714.6h5.5M573.1 714.6h-5.5M56.3 677.2h2.8M573.1 677.2h-2.8M56.3 655.3h2.8M573.1 655.3h-2.8M56.3 639.8h2.8M573.1 639.8h-2.8M56.3 627.8h2.8M573.1 627.8h-2.8M56.3 618.0h2.8M573.1 618.0h-2.8M56.3 609.6h2.8M573.1 609.6h-2.8M56.3 602.4h2.8M573.1 602.4h-2.8M56.3 596.1h2.8M573.1 596.1h-2.8M56.3 590.4h5.5M573.1 590.4h-5.5M56.3 553.0h2.8M573.1 553.0h-2.8M56.3 531.1h2.8M573.1 531.1h-2.8M56.3 515.6h2.8M573.1 515.6h-2.8M56.3 503.6h2.8M573.1 503.6h-2.8M56.3 493.8h2.8M573.1 493.8h-2.8M56.3 485.4h2.8M573.1 485.4h-2.8M56.3 478.2h2.8M573.1 478.2h-2.8M56.3 471.9h2.8M573.1 471.9h-2.8" stroke="#000" stroke-width="1.8" fill="none"/>
<rect x="56.3" y="466.2" width="516.8000000000001" height="372.59999999999997" fill="none" stroke="#000" stroke-width="2.1"/>
<text x="56.4" y="855" font-size="16" text-anchor="middle">0</text>
<text x="159.8" y="855" font-size="16" text-anchor="middle">10</text>
<text x="263.1" y="855" font-size="16" text-anchor="middle">20</text>
<text x="366.5" y="855" font-size="16" text-anchor="middle">30</text>
<text x="469.8" y="855" font-size="16" text-anchor="middle">40</text>
<text x="573.2" y="855" font-size="16" text-anchor="middle">50</text>
<text x="29.0" y="845.4" font-size="16">10</text>
<text x="46.3" y="835.9" font-size="10.7">1</text>
<text x="29.0" y="721.2" font-size="16">10</text>
<text x="46.3" y="711.7" font-size="10.7">2</text>
<text x="29.0" y="597.0" font-size="16">10</text>
<text x="46.3" y="587.5" font-size="10.7">3</text>
<text x="29.0" y="472.8" font-size="16">10</text>
<text x="46.3" y="463.3" font-size="10.7">4</text>
<text x="200.3" y="873.2" font-size="16.5" textLength="218.5" lengthAdjust="spacingAndGlyphs">Total Genome−fold Coverage</text>
<text transform="translate(21.2 780.8) rotate(-90)" font-size="16.5" textLength="244" lengthAdjust="spacingAndGlyphs">Minimum Detectable Variant Size</text>
<text x="0.7" y="468.3" font-size="20" font-weight="bold">D</text>
<rect x="427.7" y="480.4" width="131.7" height="59.2" fill="#fff" stroke="#000" stroke-width="1.7"/>
<line x1="430.5" x2="440" y1="491" y2="491" stroke="#000" stroke-width="1.4" stroke-dasharray="2 1.6"/>
<line x1="430" x2="440" y1="509.8" y2="509.8" stroke="#3a50a2" stroke-width="1.6"/>
<line x1="430" x2="440" y1="529" y2="529" stroke="#6abf4b" stroke-width="1.6"/>
<text x="441.2" y="495.7" font-size="16" textLength="60.5" lengthAdjust="spacingAndGlyphs">Deletion</text>
<text x="441.6" y="515.3" font-size="16" textLength="116" lengthAdjust="spacingAndGlyphs">2x Amplification</text>
<text x="441.6" y="534.7" font-size="16" textLength="116" lengthAdjust="spacingAndGlyphs">3x Amplification</text>
</g></svg></body></html>
